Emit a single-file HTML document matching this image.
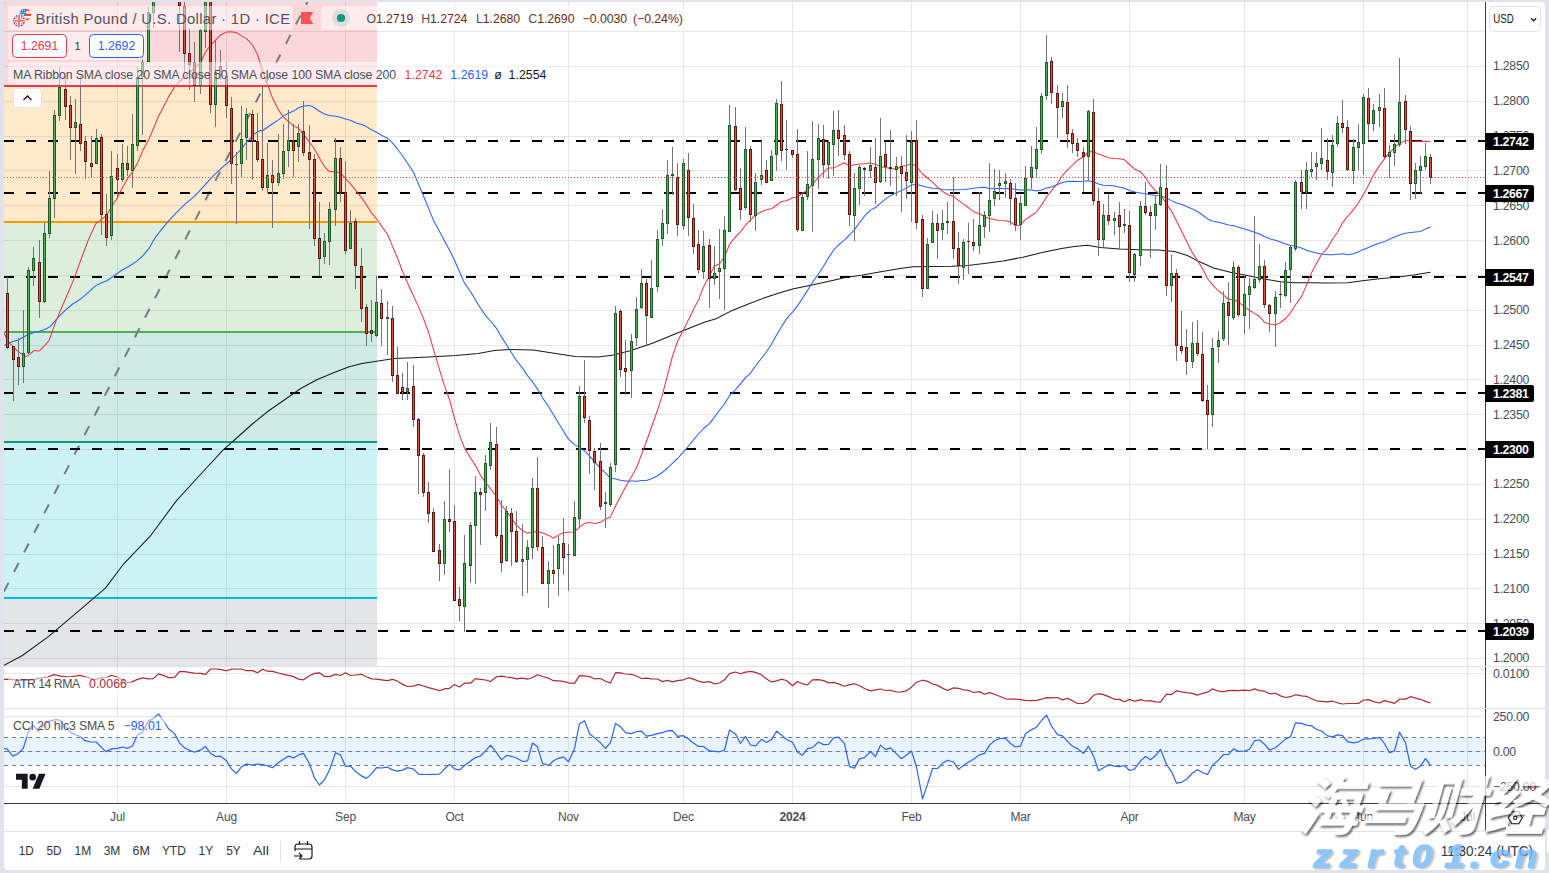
<!DOCTYPE html>
<html><head><meta charset="utf-8"><title>GBPUSD chart</title>
<style>html,body{margin:0;padding:0;background:#e0e3eb;}body{width:1549px;height:873px;overflow:hidden;}svg{display:block}</style>
</head><body>
<svg width="1549" height="873" viewBox="0 0 1549 873" font-family="Liberation Sans, Arial, sans-serif">
<defs>
<clipPath id="cm"><rect x="4" y="2" width="1481" height="664"/></clipPath>
<clipPath id="ca"><rect x="4" y="667" width="1481" height="41"/></clipPath>
<clipPath id="cc"><rect x="4" y="709" width="1481" height="94"/></clipPath>
<filter id="ws" x="-5%" y="-10%" width="110%" height="130%"><feGaussianBlur in="SourceAlpha" stdDeviation="0.8" result="b"/><feOffset in="b" dx="2" dy="2" result="o"/><feComposite in="o" in2="SourceAlpha" operator="out" result="sh"/><feFlood flood-color="#000" flood-opacity="0.6"/><feComposite in2="sh" operator="in"/></filter><filter id="ws2" x="-10%" y="-10%" width="120%" height="130%"><feDropShadow dx="1.5" dy="1.5" stdDeviation="0.7" flood-color="#555" flood-opacity="0.5"/></filter></defs>
<rect width="1549" height="873" fill="#e0e3eb"/>
<rect x="4" y="2" width="1541" height="868" rx="3.5" fill="#fff"/>
<g shape-rendering="crispEdges" fill="#e6e6e6">
<rect x="117" y="2" width="1" height="801"/>
<rect x="226" y="2" width="1" height="801"/>
<rect x="345" y="2" width="1" height="801"/>
<rect x="454" y="2" width="1" height="801"/>
<rect x="568" y="2" width="1" height="801"/>
<rect x="683" y="2" width="1" height="801"/>
<rect x="792" y="2" width="1" height="801"/>
<rect x="911" y="2" width="1" height="801"/>
<rect x="1020" y="2" width="1" height="801"/>
<rect x="1129" y="2" width="1" height="801"/>
<rect x="1244" y="2" width="1" height="801"/>
<rect x="1363" y="2" width="1" height="801"/>
<rect x="1467" y="2" width="1" height="801"/>
<rect x="4" y="31" width="1481" height="1"/>
<rect x="4" y="66" width="1481" height="1"/>
<rect x="4" y="101" width="1481" height="1"/>
<rect x="4" y="136" width="1481" height="1"/>
<rect x="4" y="170" width="1481" height="1"/>
<rect x="4" y="205" width="1481" height="1"/>
<rect x="4" y="240" width="1481" height="1"/>
<rect x="4" y="275" width="1481" height="1"/>
<rect x="4" y="310" width="1481" height="1"/>
<rect x="4" y="345" width="1481" height="1"/>
<rect x="4" y="379" width="1481" height="1"/>
<rect x="4" y="414" width="1481" height="1"/>
<rect x="4" y="449" width="1481" height="1"/>
<rect x="4" y="484" width="1481" height="1"/>
<rect x="4" y="519" width="1481" height="1"/>
<rect x="4" y="554" width="1481" height="1"/>
<rect x="4" y="588" width="1481" height="1"/>
<rect x="4" y="623" width="1481" height="1"/>
<rect x="4" y="658" width="1481" height="1"/>
<rect x="4" y="673" width="1481" height="1"/>
<rect x="4" y="716" width="1481" height="1"/>
<rect x="4" y="751" width="1481" height="1"/>
<rect x="4" y="786" width="1481" height="1"/>
</g>
<g clip-path="url(#cm)">
<rect x="4" y="2" width="373" height="84" fill="#f23645" fill-opacity="0.2"/>
<rect x="4" y="86" width="373" height="136" fill="#ff9800" fill-opacity="0.2"/>
<rect x="4" y="222" width="373" height="110" fill="#4caf50" fill-opacity="0.2"/>
<rect x="4" y="332" width="373" height="110" fill="#089981" fill-opacity="0.2"/>
<rect x="4" y="442" width="373" height="156" fill="#00bcd4" fill-opacity="0.2"/>
<rect x="4" y="598" width="373" height="68" fill="#787b86" fill-opacity="0.2"/>
<rect x="4" y="85" width="373" height="2" fill="#f23645" shape-rendering="crispEdges"/>
<rect x="4" y="221" width="373" height="2" fill="#ff9800" shape-rendering="crispEdges"/>
<rect x="4" y="331" width="373" height="2" fill="#4caf50" shape-rendering="crispEdges"/>
<rect x="4" y="441" width="373" height="2" fill="#089981" shape-rendering="crispEdges"/>
<rect x="4" y="597" width="373" height="2" fill="#00bcd4" shape-rendering="crispEdges"/>
<line x1="4" y1="591.5" x2="310" y2="-3" stroke="#787b86" stroke-width="2" stroke-dasharray="10 12"/>
<line x1="4" y1="141" x2="1485" y2="141" stroke="#000" stroke-width="2" stroke-dasharray="10 12" shape-rendering="crispEdges"/>
<line x1="4" y1="193" x2="1485" y2="193" stroke="#000" stroke-width="2" stroke-dasharray="10 12" shape-rendering="crispEdges"/>
<line x1="4" y1="277" x2="1485" y2="277" stroke="#000" stroke-width="2" stroke-dasharray="10 12" shape-rendering="crispEdges"/>
<line x1="4" y1="393" x2="1485" y2="393" stroke="#000" stroke-width="2" stroke-dasharray="10 12" shape-rendering="crispEdges"/>
<line x1="4" y1="449" x2="1485" y2="449" stroke="#000" stroke-width="2" stroke-dasharray="10 12" shape-rendering="crispEdges"/>
<line x1="4" y1="631" x2="1485" y2="631" stroke="#000" stroke-width="2" stroke-dasharray="10 12" shape-rendering="crispEdges"/>
<path d="M4.0 665.3 L22.4 655.5 L48.7 636.3 L79.1 610.7 L105.4 588.1 L123.8 563.8 L150.2 536.2 L176.5 500.6 L205.5 469.0 L223.2 449.8 L236.1 438.5 L252.3 424.0 L268.4 411.0 L284.6 399.7 L300.7 388.5 L316.8 379.7 L333.0 373.0 L349.1 366.8 L362.0 363.6 L378.2 361.0 L394.3 358.4 L413.7 357.8 L433.0 356.8 L455.6 355.5 L478.2 353.6 L494.4 350.4 L510.5 349.4 L533.1 350.0 L555.7 353.6 L575.1 356.5 L597.7 357.1 L612.2 355.2 L630.0 350.7 L652.5 343.3 L671.9 335.2 L688.0 328.7 L704.2 322.3 L716.1 318.8 L732.3 310.4 L748.4 303.9 L764.6 297.8 L780.7 292.6 L793.6 288.8 L809.7 285.5 L829.1 281.3 L845.3 277.5 L861.4 275.2 L880.8 271.7 L900.1 268.4 L913.0 266.8 L932.4 266.5 L951.8 266.2 L967.9 265.5 L984.1 263.6 L1003.4 261.0 L1022.8 257.2 L1042.2 252.6 L1061.5 248.4 L1074.4 246.5 L1087.3 245.2 L1100.3 247.4 L1119.6 249.1 L1139.0 249.7 L1158.4 250.0 L1174.5 251.6 L1187.4 255.5 L1196.8 260.4 L1213.6 268.0 L1230.4 272.2 L1247.1 275.5 L1263.9 278.9 L1280.7 281.7 L1294.1 282.7 L1310.9 282.7 L1327.7 283.1 L1347.8 282.7 L1364.6 280.6 L1381.4 278.5 L1398.2 276.9 L1415.0 274.7 L1430.6 272.2" fill="none" stroke="#1a1a1a" stroke-width="1.05" stroke-linejoin="round"/>
<path d="M4.5 345.3 L12.6 341.6 L18.6 340.0 L26.7 335.3 L33.7 332.4 L39.5 331.3 L45.3 329.3 L50.0 326.6 L54.7 321.4 L59.3 316.2 L65.1 310.3 L72.1 304.5 L80.2 299.3 L88.4 292.3 L95.3 285.9 L101.2 283.0 L107.0 280.7 L112.8 276.6 L120.9 270.8 L129.1 266.2 L137.2 260.9 L143.0 255.7 L148.8 248.7 L154.7 238.4 L159.6 231.8 L167.6 222.2 L175.6 213.4 L185.3 203.8 L194.9 195.8 L204.5 185.3 L214.1 174.9 L222.1 167.7 L230.2 160.5 L238.2 152.5 L246.2 142.9 L254.2 134.0 L260.0 130.5 L262.5 130.7 L267.5 127.3 L272.5 123.8 L278.5 119.9 L283.5 115.9 L288.5 113.3 L293.5 111.1 L298.5 107.8 L303.5 106.1 L309.5 105.4 L314.5 107.8 L319.5 111.3 L324.5 114.0 L329.5 115.6 L335.5 116.3 L340.5 117.3 L345.5 119.1 L350.5 120.2 L355.5 122.7 L361.5 124.6 L366.5 126.6 L371.5 129.7 L376.5 132.2 L381.5 135.3 L387.5 138.2 L392.5 142.9 L397.5 149.2 L402.5 155.8 L407.5 163.3 L413.5 172.3 L418.5 184.1 L423.5 196.0 L428.5 208.1 L433.5 220.4 L439.5 231.5 L444.5 240.9 L449.5 250.0 L454.5 260.3 L459.5 271.8 L464.5 283.1 L470.5 291.5 L475.5 299.9 L480.5 308.3 L485.5 315.4 L490.5 321.0 L496.5 328.4 L501.5 336.9 L506.5 344.8 L511.5 352.7 L516.5 360.7 L522.5 368.1 L527.5 375.6 L532.5 381.7 L537.5 389.1 L542.5 397.8 L548.5 406.4 L553.5 414.8 L558.5 423.1 L563.5 431.2 L568.5 439.1 L574.5 444.6 L579.5 447.4 L584.5 450.9 L589.5 455.8 L594.5 461.9 L600.5 468.1 L605.5 473.2 L610.5 478.1 L615.5 479.0 L620.5 480.2 L625.5 481.0 L631.5 481.1 L636.5 481.2 L641.5 480.5 L646.5 480.5 L651.5 478.8 L657.5 475.7 L662.5 472.3 L667.5 468.0 L672.5 463.1 L677.5 458.5 L683.5 451.9 L688.5 446.0 L693.5 439.9 L698.5 434.0 L703.5 428.5 L709.5 423.6 L714.5 417.1 L719.5 410.3 L724.5 403.7 L729.5 395.7 L735.5 389.6 L740.5 383.9 L745.5 377.7 L750.5 373.1 L755.5 366.0 L761.5 358.3 L766.5 351.7 L771.5 344.2 L776.5 335.0 L781.5 326.8 L786.5 318.9 L792.5 312.2 L797.5 305.9 L802.5 298.2 L807.5 290.4 L812.5 282.2 L818.5 274.0 L823.5 266.2 L828.5 257.9 L833.5 250.2 L838.5 245.0 L844.5 239.8 L849.5 235.0 L854.5 229.6 L859.5 222.8 L864.5 216.1 L870.5 210.1 L875.5 207.5 L880.5 203.2 L885.5 199.1 L890.5 195.6 L896.5 192.8 L901.5 190.6 L906.5 187.9 L911.5 185.0 L916.5 184.6 L922.5 185.9 L927.5 187.3 L932.5 188.3 L937.5 188.4 L942.5 189.6 L947.5 189.7 L953.5 189.8 L958.5 189.7 L963.5 189.6 L968.5 188.9 L973.5 188.3 L979.5 187.5 L984.5 187.2 L989.5 188.7 L994.5 188.7 L999.5 188.2 L1005.5 188.8 L1010.5 188.5 L1015.5 189.4 L1020.5 189.9 L1025.5 189.8 L1031.5 190.0 L1036.5 191.0 L1041.5 189.9 L1046.5 188.1 L1051.5 186.9 L1057.5 184.4 L1062.5 182.5 L1067.5 181.5 L1072.5 181.2 L1077.5 181.4 L1083.5 181.3 L1088.5 180.7 L1093.5 182.1 L1098.5 184.1 L1103.5 185.3 L1108.5 185.4 L1114.5 186.0 L1119.5 187.2 L1124.5 188.3 L1129.5 190.5 L1134.5 191.9 L1140.5 192.9 L1145.5 193.8 L1150.5 194.8 L1155.5 195.5 L1160.5 195.8 L1166.5 197.9 L1171.5 200.6 L1176.5 203.0 L1181.5 204.3 L1186.5 206.6 L1192.5 209.0 L1197.5 211.5 L1202.5 215.0 L1207.5 218.9 L1212.5 220.9 L1218.5 222.3 L1223.5 223.6 L1228.5 225.1 L1233.5 225.5 L1238.5 227.3 L1244.5 228.9 L1249.5 230.6 L1254.5 232.3 L1259.5 234.0 L1264.5 236.5 L1269.5 238.8 L1275.5 240.2 L1280.5 242.1 L1285.5 243.9 L1290.5 245.5 L1295.5 246.2 L1301.5 248.1 L1306.5 250.2 L1311.5 251.8 L1316.5 252.9 L1321.5 254.0 L1327.5 254.8 L1332.5 254.8 L1337.5 254.2 L1342.5 253.7 L1347.5 254.8 L1353.5 253.8 L1358.5 251.8 L1363.5 249.4 L1368.5 247.5 L1373.5 245.3 L1379.5 243.0 L1384.5 241.6 L1389.5 239.2 L1394.5 237.0 L1399.5 234.9 L1405.5 233.2 L1410.5 232.6 L1415.5 231.9 L1420.5 231.5 L1425.5 228.9 L1430.5 227.0" fill="none" stroke="#2962ff" stroke-width="1.05" stroke-linejoin="round"/>
<path d="M3.8 332.7 L8.8 342.3 L17.6 351.1 L25.2 356.7 L29.0 354.9 L34.0 350.6 L39.0 351.1 L44.1 346.1 L49.1 340.6 L54.2 325.9 L59.2 313.4 L66.8 295.7 L74.3 278.1 L80.6 260.5 L88.2 240.3 L95.7 223.9 L100.8 219.9 L106.5 215.4 L111.5 206.8 L117.5 197.8 L122.5 187.6 L127.5 178.4 L132.5 172.1 L137.5 163.1 L142.5 151.1 L148.5 140.0 L153.5 128.6 L158.5 116.2 L163.5 106.7 L168.5 96.9 L174.5 87.3 L179.5 81.5 L184.5 77.0 L189.5 72.1 L194.5 68.1 L200.5 62.7 L205.5 52.0 L210.5 45.4 L215.5 40.2 L220.5 35.0 L226.5 32.1 L231.5 31.8 L236.5 32.8 L241.5 35.9 L246.5 38.6 L252.5 45.0 L257.5 54.5 L262.5 70.5 L267.5 84.4 L272.5 98.1 L278.5 109.9 L283.5 117.2 L288.5 121.6 L293.5 125.9 L298.5 128.3 L303.5 134.4 L309.5 142.3 L314.5 149.0 L319.5 158.3 L324.5 166.6 L329.5 171.8 L335.5 171.5 L340.5 172.9 L345.5 178.5 L350.5 183.9 L355.5 190.1 L361.5 197.6 L366.5 204.9 L371.5 212.8 L376.5 218.8 L381.5 226.1 L387.5 234.3 L392.5 246.1 L397.5 258.3 L402.5 271.2 L407.5 283.0 L413.5 296.0 L418.5 306.9 L423.5 318.6 L428.5 332.2 L433.5 349.3 L439.5 369.6 L444.5 385.9 L449.5 399.5 L454.5 418.4 L459.5 435.4 L464.5 448.1 L470.5 457.7 L475.5 465.6 L480.5 475.2 L485.5 482.5 L490.5 488.7 L496.5 496.7 L501.5 505.2 L506.5 511.1 L511.5 518.3 L516.5 525.4 L522.5 530.6 L527.5 533.3 L532.5 532.1 L537.5 531.8 L542.5 532.8 L548.5 535.4 L553.5 538.0 L558.5 535.1 L563.5 532.7 L568.5 532.3 L574.5 531.9 L579.5 527.1 L584.5 523.3 L589.5 522.6 L594.5 523.6 L600.5 522.2 L605.5 519.1 L610.5 516.9 L615.5 506.0 L620.5 496.4 L625.5 487.0 L631.5 476.7 L636.5 467.8 L641.5 454.6 L646.5 441.2 L651.5 427.0 L657.5 410.3 L662.5 394.3 L667.5 375.1 L672.5 356.1 L677.5 341.5 L683.5 329.8 L688.5 319.8 L693.5 309.6 L698.5 299.9 L703.5 286.9 L709.5 275.7 L714.5 266.0 L719.5 263.7 L724.5 256.8 L729.5 244.5 L735.5 236.9 L740.5 231.9 L745.5 225.2 L750.5 220.2 L755.5 214.9 L761.5 211.7 L766.5 209.7 L771.5 208.7 L776.5 205.2 L781.5 201.5 L786.5 200.8 L792.5 197.7 L797.5 196.9 L802.5 193.3 L807.5 190.2 L812.5 184.2 L818.5 177.5 L823.5 172.3 L828.5 167.9 L833.5 168.1 L838.5 165.6 L844.5 162.8 L849.5 166.1 L854.5 164.8 L859.5 164.0 L864.5 163.7 L870.5 162.9 L875.5 164.2 L880.5 166.8 L885.5 167.6 L890.5 168.6 L896.5 169.2 L901.5 166.3 L906.5 165.5 L911.5 163.4 L916.5 166.5 L922.5 174.0 L927.5 178.0 L932.5 182.1 L937.5 187.1 L942.5 191.3 L947.5 194.7 L953.5 196.4 L958.5 200.3 L963.5 204.1 L968.5 207.7 L973.5 211.7 L979.5 213.8 L984.5 216.8 L989.5 218.4 L994.5 219.6 L999.5 220.4 L1005.5 220.8 L1010.5 221.7 L1015.5 225.9 L1020.5 224.9 L1025.5 219.4 L1031.5 215.5 L1036.5 211.8 L1041.5 205.1 L1046.5 197.0 L1051.5 190.6 L1057.5 183.5 L1062.5 175.3 L1067.5 169.9 L1072.5 165.0 L1077.5 160.2 L1083.5 156.8 L1088.5 151.6 L1093.5 151.7 L1098.5 154.1 L1103.5 155.7 L1108.5 157.7 L1114.5 158.6 L1119.5 158.7 L1124.5 159.8 L1129.5 164.5 L1134.5 168.9 L1140.5 171.7 L1145.5 177.5 L1150.5 185.2 L1155.5 190.8 L1160.5 194.8 L1166.5 204.0 L1171.5 210.9 L1176.5 221.1 L1181.5 231.1 L1186.5 241.3 L1192.5 252.9 L1197.5 260.5 L1202.5 268.6 L1207.5 278.5 L1212.5 284.9 L1218.5 291.0 L1223.5 294.9 L1228.5 299.5 L1233.5 299.2 L1238.5 302.2 L1244.5 306.6 L1249.5 310.3 L1254.5 313.4 L1259.5 316.5 L1264.5 322.4 L1269.5 323.9 L1275.5 325.1 L1280.5 322.5 L1285.5 318.5 L1290.5 312.8 L1295.5 304.7 L1301.5 296.6 L1306.5 285.1 L1311.5 272.8 L1316.5 263.6 L1321.5 254.5 L1327.5 247.9 L1332.5 239.3 L1337.5 232.2 L1342.5 222.8 L1347.5 216.6 L1353.5 209.6 L1358.5 202.8 L1363.5 194.3 L1368.5 185.2 L1373.5 175.1 L1379.5 165.6 L1384.5 158.7 L1389.5 152.7 L1394.5 147.6 L1399.5 143.6 L1405.5 140.5 L1410.5 141.1 L1415.5 141.2 L1420.5 141.4 L1425.5 141.3 L1430.5 141.6" fill="none" stroke="#f23645" stroke-width="1.05" stroke-linejoin="round"/>
<g shape-rendering="crispEdges">
<rect x="7" y="277" width="1" height="72" fill="#737375"/>
<rect x="6" y="293" width="3" height="55" fill="#5e160f"/>
<rect x="7" y="294" width="1" height="53" fill="#d9523f"/>
<rect x="13" y="346" width="1" height="55" fill="#737375"/>
<rect x="12" y="346" width="3" height="14" fill="#5e160f"/>
<rect x="13" y="347" width="1" height="12" fill="#d9523f"/>
<rect x="18" y="338" width="1" height="47" fill="#737375"/>
<rect x="17" y="357" width="3" height="10" fill="#5e160f"/>
<rect x="18" y="358" width="1" height="8" fill="#d9523f"/>
<rect x="23" y="310" width="1" height="73" fill="#737375"/>
<rect x="22" y="353" width="3" height="14" fill="#1e5a2b"/>
<rect x="23" y="354" width="1" height="12" fill="#4caf50"/>
<rect x="28" y="267" width="1" height="87" fill="#737375"/>
<rect x="27" y="270" width="3" height="83" fill="#1e5a2b"/>
<rect x="28" y="271" width="1" height="81" fill="#4caf50"/>
<rect x="33" y="247" width="1" height="39" fill="#737375"/>
<rect x="32" y="258" width="3" height="13" fill="#1e5a2b"/>
<rect x="33" y="259" width="1" height="11" fill="#4caf50"/>
<rect x="39" y="240" width="1" height="78" fill="#737375"/>
<rect x="38" y="262" width="3" height="40" fill="#5e160f"/>
<rect x="39" y="263" width="1" height="38" fill="#d9523f"/>
<rect x="44" y="223" width="1" height="80" fill="#737375"/>
<rect x="43" y="233" width="3" height="69" fill="#1e5a2b"/>
<rect x="44" y="234" width="1" height="67" fill="#4caf50"/>
<rect x="49" y="171" width="1" height="67" fill="#737375"/>
<rect x="48" y="198" width="3" height="36" fill="#1e5a2b"/>
<rect x="49" y="199" width="1" height="34" fill="#4caf50"/>
<rect x="54" y="110" width="1" height="108" fill="#737375"/>
<rect x="53" y="115" width="3" height="84" fill="#1e5a2b"/>
<rect x="54" y="116" width="1" height="82" fill="#4caf50"/>
<rect x="59" y="67" width="1" height="54" fill="#737375"/>
<rect x="58" y="87" width="3" height="29" fill="#1e5a2b"/>
<rect x="59" y="88" width="1" height="27" fill="#4caf50"/>
<rect x="65" y="76" width="1" height="44" fill="#737375"/>
<rect x="64" y="89" width="3" height="18" fill="#5e160f"/>
<rect x="65" y="90" width="1" height="16" fill="#d9523f"/>
<rect x="70" y="96" width="1" height="64" fill="#737375"/>
<rect x="69" y="105" width="3" height="23" fill="#5e160f"/>
<rect x="70" y="106" width="1" height="21" fill="#d9523f"/>
<rect x="75" y="99" width="1" height="75" fill="#737375"/>
<rect x="74" y="122" width="3" height="6" fill="#1e5a2b"/>
<rect x="75" y="123" width="1" height="4" fill="#4caf50"/>
<rect x="80" y="76" width="1" height="75" fill="#737375"/>
<rect x="79" y="124" width="3" height="20" fill="#5e160f"/>
<rect x="80" y="125" width="1" height="18" fill="#d9523f"/>
<rect x="85" y="136" width="1" height="43" fill="#737375"/>
<rect x="84" y="141" width="3" height="21" fill="#5e160f"/>
<rect x="85" y="142" width="1" height="19" fill="#d9523f"/>
<rect x="91" y="136" width="1" height="42" fill="#737375"/>
<rect x="90" y="163" width="3" height="4" fill="#5e160f"/>
<rect x="91" y="164" width="1" height="2" fill="#d9523f"/>
<rect x="96" y="129" width="1" height="35" fill="#737375"/>
<rect x="95" y="138" width="3" height="26" fill="#1e5a2b"/>
<rect x="96" y="139" width="1" height="24" fill="#4caf50"/>
<rect x="101" y="134" width="1" height="101" fill="#737375"/>
<rect x="100" y="137" width="3" height="78" fill="#5e160f"/>
<rect x="101" y="138" width="1" height="76" fill="#d9523f"/>
<rect x="106" y="194" width="1" height="52" fill="#737375"/>
<rect x="105" y="214" width="3" height="24" fill="#5e160f"/>
<rect x="106" y="215" width="1" height="22" fill="#d9523f"/>
<rect x="111" y="151" width="1" height="89" fill="#737375"/>
<rect x="110" y="176" width="3" height="60" fill="#1e5a2b"/>
<rect x="111" y="177" width="1" height="58" fill="#4caf50"/>
<rect x="117" y="154" width="1" height="45" fill="#737375"/>
<rect x="116" y="168" width="3" height="12" fill="#5e160f"/>
<rect x="117" y="169" width="1" height="10" fill="#d9523f"/>
<rect x="122" y="144" width="1" height="38" fill="#737375"/>
<rect x="121" y="163" width="3" height="17" fill="#1e5a2b"/>
<rect x="122" y="164" width="1" height="15" fill="#4caf50"/>
<rect x="127" y="146" width="1" height="30" fill="#737375"/>
<rect x="126" y="163" width="3" height="7" fill="#5e160f"/>
<rect x="127" y="164" width="1" height="5" fill="#d9523f"/>
<rect x="132" y="114" width="1" height="74" fill="#737375"/>
<rect x="131" y="144" width="3" height="27" fill="#1e5a2b"/>
<rect x="132" y="145" width="1" height="25" fill="#4caf50"/>
<rect x="137" y="67" width="1" height="84" fill="#737375"/>
<rect x="136" y="77" width="3" height="69" fill="#1e5a2b"/>
<rect x="137" y="78" width="1" height="67" fill="#4caf50"/>
<rect x="142" y="56" width="1" height="79" fill="#737375"/>
<rect x="141" y="62" width="3" height="15" fill="#1e5a2b"/>
<rect x="142" y="63" width="1" height="13" fill="#4caf50"/>
<rect x="148" y="7" width="1" height="55" fill="#737375"/>
<rect x="147" y="12" width="3" height="50" fill="#1e5a2b"/>
<rect x="148" y="13" width="1" height="48" fill="#4caf50"/>
<rect x="153" y="-38" width="1" height="66" fill="#737375"/>
<rect x="152" y="-30" width="3" height="43" fill="#1e5a2b"/>
<rect x="153" y="-29" width="1" height="41" fill="#4caf50"/>
<rect x="158" y="-137" width="1" height="113" fill="#737375"/>
<rect x="157" y="-132" width="3" height="102" fill="#1e5a2b"/>
<rect x="158" y="-131" width="1" height="100" fill="#4caf50"/>
<rect x="163" y="-139" width="1" height="53" fill="#737375"/>
<rect x="162" y="-132" width="3" height="30" fill="#5e160f"/>
<rect x="163" y="-131" width="1" height="28" fill="#d9523f"/>
<rect x="168" y="-115" width="1" height="42" fill="#737375"/>
<rect x="167" y="-101" width="3" height="11" fill="#5e160f"/>
<rect x="168" y="-100" width="1" height="9" fill="#d9523f"/>
<rect x="174" y="-126" width="1" height="68" fill="#737375"/>
<rect x="173" y="-91" width="3" height="27" fill="#5e160f"/>
<rect x="174" y="-90" width="1" height="25" fill="#d9523f"/>
<rect x="179" y="-70" width="1" height="122" fill="#737375"/>
<rect x="178" y="-64" width="3" height="70" fill="#5e160f"/>
<rect x="179" y="-63" width="1" height="68" fill="#d9523f"/>
<rect x="184" y="2" width="1" height="70" fill="#737375"/>
<rect x="183" y="6" width="3" height="48" fill="#5e160f"/>
<rect x="184" y="7" width="1" height="46" fill="#d9523f"/>
<rect x="189" y="28" width="1" height="62" fill="#737375"/>
<rect x="188" y="53" width="3" height="12" fill="#5e160f"/>
<rect x="189" y="54" width="1" height="10" fill="#d9523f"/>
<rect x="194" y="42" width="1" height="60" fill="#737375"/>
<rect x="193" y="62" width="3" height="24" fill="#5e160f"/>
<rect x="194" y="63" width="1" height="22" fill="#d9523f"/>
<rect x="200" y="28" width="1" height="66" fill="#737375"/>
<rect x="199" y="30" width="3" height="56" fill="#1e5a2b"/>
<rect x="200" y="31" width="1" height="54" fill="#4caf50"/>
<rect x="205" y="-10" width="1" height="58" fill="#737375"/>
<rect x="204" y="1" width="3" height="31" fill="#1e5a2b"/>
<rect x="205" y="2" width="1" height="29" fill="#4caf50"/>
<rect x="210" y="-35" width="1" height="148" fill="#737375"/>
<rect x="209" y="1" width="3" height="104" fill="#5e160f"/>
<rect x="210" y="2" width="1" height="102" fill="#d9523f"/>
<rect x="215" y="40" width="1" height="87" fill="#737375"/>
<rect x="214" y="72" width="3" height="33" fill="#1e5a2b"/>
<rect x="215" y="73" width="1" height="31" fill="#4caf50"/>
<rect x="220" y="50" width="1" height="30" fill="#737375"/>
<rect x="219" y="66" width="3" height="10" fill="#5e160f"/>
<rect x="220" y="67" width="1" height="8" fill="#d9523f"/>
<rect x="226" y="62" width="1" height="56" fill="#737375"/>
<rect x="225" y="76" width="3" height="30" fill="#5e160f"/>
<rect x="226" y="77" width="1" height="28" fill="#d9523f"/>
<rect x="231" y="97" width="1" height="87" fill="#737375"/>
<rect x="230" y="108" width="3" height="56" fill="#5e160f"/>
<rect x="231" y="109" width="1" height="54" fill="#d9523f"/>
<rect x="236" y="152" width="1" height="72" fill="#737375"/>
<rect x="235" y="164" width="3" height="1" fill="#1e5a2b"/>
<rect x="241" y="106" width="1" height="72" fill="#737375"/>
<rect x="240" y="139" width="3" height="25" fill="#1e5a2b"/>
<rect x="241" y="140" width="1" height="23" fill="#4caf50"/>
<rect x="246" y="108" width="1" height="52" fill="#737375"/>
<rect x="245" y="114" width="3" height="24" fill="#1e5a2b"/>
<rect x="246" y="115" width="1" height="22" fill="#4caf50"/>
<rect x="252" y="110" width="1" height="70" fill="#737375"/>
<rect x="251" y="114" width="3" height="28" fill="#5e160f"/>
<rect x="252" y="115" width="1" height="26" fill="#d9523f"/>
<rect x="257" y="113" width="1" height="49" fill="#737375"/>
<rect x="256" y="141" width="3" height="19" fill="#5e160f"/>
<rect x="257" y="142" width="1" height="17" fill="#d9523f"/>
<rect x="262" y="86" width="1" height="105" fill="#737375"/>
<rect x="261" y="159" width="3" height="29" fill="#5e160f"/>
<rect x="262" y="160" width="1" height="27" fill="#d9523f"/>
<rect x="267" y="143" width="1" height="50" fill="#737375"/>
<rect x="266" y="175" width="3" height="13" fill="#1e5a2b"/>
<rect x="267" y="176" width="1" height="11" fill="#4caf50"/>
<rect x="272" y="160" width="1" height="68" fill="#737375"/>
<rect x="271" y="175" width="3" height="8" fill="#5e160f"/>
<rect x="272" y="176" width="1" height="6" fill="#d9523f"/>
<rect x="278" y="134" width="1" height="52" fill="#737375"/>
<rect x="277" y="173" width="3" height="10" fill="#1e5a2b"/>
<rect x="278" y="174" width="1" height="8" fill="#4caf50"/>
<rect x="283" y="124" width="1" height="55" fill="#737375"/>
<rect x="282" y="151" width="3" height="23" fill="#1e5a2b"/>
<rect x="283" y="152" width="1" height="21" fill="#4caf50"/>
<rect x="288" y="110" width="1" height="57" fill="#737375"/>
<rect x="287" y="140" width="3" height="11" fill="#1e5a2b"/>
<rect x="288" y="141" width="1" height="9" fill="#4caf50"/>
<rect x="293" y="124" width="1" height="53" fill="#737375"/>
<rect x="292" y="141" width="3" height="10" fill="#5e160f"/>
<rect x="293" y="142" width="1" height="8" fill="#d9523f"/>
<rect x="298" y="124" width="1" height="38" fill="#737375"/>
<rect x="297" y="133" width="3" height="14" fill="#1e5a2b"/>
<rect x="298" y="134" width="1" height="12" fill="#4caf50"/>
<rect x="303" y="101" width="1" height="55" fill="#737375"/>
<rect x="302" y="131" width="3" height="22" fill="#5e160f"/>
<rect x="303" y="132" width="1" height="20" fill="#d9523f"/>
<rect x="309" y="125" width="1" height="104" fill="#737375"/>
<rect x="308" y="152" width="3" height="8" fill="#5e160f"/>
<rect x="309" y="153" width="1" height="6" fill="#d9523f"/>
<rect x="314" y="154" width="1" height="92" fill="#737375"/>
<rect x="313" y="159" width="3" height="80" fill="#5e160f"/>
<rect x="314" y="160" width="1" height="78" fill="#d9523f"/>
<rect x="319" y="202" width="1" height="74" fill="#737375"/>
<rect x="318" y="238" width="3" height="21" fill="#5e160f"/>
<rect x="319" y="239" width="1" height="19" fill="#d9523f"/>
<rect x="324" y="233" width="1" height="31" fill="#737375"/>
<rect x="323" y="241" width="3" height="16" fill="#1e5a2b"/>
<rect x="324" y="242" width="1" height="14" fill="#4caf50"/>
<rect x="329" y="202" width="1" height="63" fill="#737375"/>
<rect x="328" y="209" width="3" height="33" fill="#1e5a2b"/>
<rect x="329" y="210" width="1" height="31" fill="#4caf50"/>
<rect x="335" y="138" width="1" height="88" fill="#737375"/>
<rect x="334" y="158" width="3" height="52" fill="#1e5a2b"/>
<rect x="335" y="159" width="1" height="50" fill="#4caf50"/>
<rect x="340" y="147" width="1" height="55" fill="#737375"/>
<rect x="339" y="158" width="3" height="35" fill="#5e160f"/>
<rect x="340" y="159" width="1" height="33" fill="#d9523f"/>
<rect x="345" y="161" width="1" height="93" fill="#737375"/>
<rect x="344" y="192" width="3" height="59" fill="#5e160f"/>
<rect x="345" y="193" width="1" height="57" fill="#d9523f"/>
<rect x="350" y="210" width="1" height="39" fill="#737375"/>
<rect x="349" y="223" width="3" height="26" fill="#1e5a2b"/>
<rect x="350" y="224" width="1" height="24" fill="#4caf50"/>
<rect x="355" y="218" width="1" height="71" fill="#737375"/>
<rect x="354" y="221" width="3" height="45" fill="#5e160f"/>
<rect x="355" y="222" width="1" height="43" fill="#d9523f"/>
<rect x="361" y="248" width="1" height="74" fill="#737375"/>
<rect x="360" y="266" width="3" height="43" fill="#5e160f"/>
<rect x="361" y="267" width="1" height="41" fill="#d9523f"/>
<rect x="366" y="304" width="1" height="42" fill="#737375"/>
<rect x="365" y="307" width="3" height="27" fill="#5e160f"/>
<rect x="366" y="308" width="1" height="25" fill="#d9523f"/>
<rect x="371" y="300" width="1" height="42" fill="#737375"/>
<rect x="370" y="330" width="3" height="4" fill="#5e160f"/>
<rect x="371" y="331" width="1" height="2" fill="#d9523f"/>
<rect x="376" y="276" width="1" height="61" fill="#737375"/>
<rect x="375" y="302" width="3" height="34" fill="#1e5a2b"/>
<rect x="376" y="303" width="1" height="32" fill="#4caf50"/>
<rect x="381" y="289" width="1" height="57" fill="#737375"/>
<rect x="380" y="303" width="3" height="16" fill="#5e160f"/>
<rect x="381" y="304" width="1" height="14" fill="#d9523f"/>
<rect x="387" y="301" width="1" height="54" fill="#737375"/>
<rect x="386" y="317" width="3" height="2" fill="#1e5a2b"/>
<rect x="392" y="306" width="1" height="76" fill="#737375"/>
<rect x="391" y="318" width="3" height="58" fill="#5e160f"/>
<rect x="392" y="319" width="1" height="56" fill="#d9523f"/>
<rect x="397" y="347" width="1" height="47" fill="#737375"/>
<rect x="396" y="375" width="3" height="19" fill="#5e160f"/>
<rect x="397" y="376" width="1" height="17" fill="#d9523f"/>
<rect x="402" y="373" width="1" height="27" fill="#737375"/>
<rect x="401" y="387" width="3" height="5" fill="#5e160f"/>
<rect x="402" y="388" width="1" height="3" fill="#d9523f"/>
<rect x="407" y="362" width="1" height="38" fill="#737375"/>
<rect x="406" y="388" width="3" height="4" fill="#1e5a2b"/>
<rect x="407" y="389" width="1" height="2" fill="#4caf50"/>
<rect x="413" y="365" width="1" height="62" fill="#737375"/>
<rect x="412" y="386" width="3" height="34" fill="#5e160f"/>
<rect x="413" y="387" width="1" height="32" fill="#d9523f"/>
<rect x="418" y="418" width="1" height="76" fill="#737375"/>
<rect x="417" y="419" width="3" height="37" fill="#5e160f"/>
<rect x="418" y="420" width="1" height="35" fill="#d9523f"/>
<rect x="423" y="453" width="1" height="44" fill="#737375"/>
<rect x="422" y="455" width="3" height="38" fill="#5e160f"/>
<rect x="423" y="456" width="1" height="36" fill="#d9523f"/>
<rect x="428" y="482" width="1" height="41" fill="#737375"/>
<rect x="427" y="492" width="3" height="22" fill="#5e160f"/>
<rect x="428" y="493" width="1" height="20" fill="#d9523f"/>
<rect x="433" y="508" width="1" height="44" fill="#737375"/>
<rect x="432" y="512" width="3" height="40" fill="#5e160f"/>
<rect x="433" y="513" width="1" height="38" fill="#d9523f"/>
<rect x="439" y="544" width="1" height="37" fill="#737375"/>
<rect x="438" y="550" width="3" height="14" fill="#5e160f"/>
<rect x="439" y="551" width="1" height="12" fill="#d9523f"/>
<rect x="444" y="501" width="1" height="74" fill="#737375"/>
<rect x="443" y="519" width="3" height="45" fill="#1e5a2b"/>
<rect x="444" y="520" width="1" height="43" fill="#4caf50"/>
<rect x="449" y="469" width="1" height="63" fill="#737375"/>
<rect x="448" y="519" width="3" height="3" fill="#5e160f"/>
<rect x="449" y="520" width="1" height="1" fill="#d9523f"/>
<rect x="454" y="505" width="1" height="96" fill="#737375"/>
<rect x="453" y="521" width="3" height="80" fill="#5e160f"/>
<rect x="454" y="522" width="1" height="78" fill="#d9523f"/>
<rect x="459" y="587" width="1" height="34" fill="#737375"/>
<rect x="458" y="599" width="3" height="7" fill="#5e160f"/>
<rect x="459" y="600" width="1" height="5" fill="#d9523f"/>
<rect x="464" y="535" width="1" height="97" fill="#737375"/>
<rect x="463" y="563" width="3" height="44" fill="#1e5a2b"/>
<rect x="464" y="564" width="1" height="42" fill="#4caf50"/>
<rect x="470" y="522" width="1" height="61" fill="#737375"/>
<rect x="469" y="525" width="3" height="41" fill="#1e5a2b"/>
<rect x="470" y="526" width="1" height="39" fill="#4caf50"/>
<rect x="475" y="476" width="1" height="108" fill="#737375"/>
<rect x="474" y="492" width="3" height="34" fill="#1e5a2b"/>
<rect x="475" y="493" width="1" height="32" fill="#4caf50"/>
<rect x="480" y="488" width="1" height="57" fill="#737375"/>
<rect x="479" y="492" width="3" height="3" fill="#5e160f"/>
<rect x="480" y="493" width="1" height="1" fill="#d9523f"/>
<rect x="485" y="455" width="1" height="56" fill="#737375"/>
<rect x="484" y="463" width="3" height="30" fill="#1e5a2b"/>
<rect x="485" y="464" width="1" height="28" fill="#4caf50"/>
<rect x="490" y="423" width="1" height="47" fill="#737375"/>
<rect x="489" y="442" width="3" height="24" fill="#1e5a2b"/>
<rect x="490" y="443" width="1" height="22" fill="#4caf50"/>
<rect x="496" y="427" width="1" height="111" fill="#737375"/>
<rect x="495" y="444" width="3" height="92" fill="#5e160f"/>
<rect x="496" y="445" width="1" height="90" fill="#d9523f"/>
<rect x="501" y="500" width="1" height="72" fill="#737375"/>
<rect x="500" y="535" width="3" height="28" fill="#5e160f"/>
<rect x="501" y="536" width="1" height="26" fill="#d9523f"/>
<rect x="506" y="506" width="1" height="56" fill="#737375"/>
<rect x="505" y="511" width="3" height="50" fill="#1e5a2b"/>
<rect x="506" y="512" width="1" height="48" fill="#4caf50"/>
<rect x="511" y="508" width="1" height="58" fill="#737375"/>
<rect x="510" y="513" width="3" height="19" fill="#5e160f"/>
<rect x="511" y="514" width="1" height="17" fill="#d9523f"/>
<rect x="516" y="511" width="1" height="52" fill="#737375"/>
<rect x="515" y="531" width="3" height="31" fill="#5e160f"/>
<rect x="516" y="532" width="1" height="29" fill="#d9523f"/>
<rect x="522" y="524" width="1" height="72" fill="#737375"/>
<rect x="521" y="559" width="3" height="3" fill="#1e5a2b"/>
<rect x="522" y="560" width="1" height="1" fill="#4caf50"/>
<rect x="527" y="540" width="1" height="53" fill="#737375"/>
<rect x="526" y="547" width="3" height="13" fill="#1e5a2b"/>
<rect x="527" y="548" width="1" height="11" fill="#4caf50"/>
<rect x="532" y="478" width="1" height="81" fill="#737375"/>
<rect x="531" y="488" width="3" height="60" fill="#1e5a2b"/>
<rect x="532" y="489" width="1" height="58" fill="#4caf50"/>
<rect x="537" y="457" width="1" height="94" fill="#737375"/>
<rect x="536" y="488" width="3" height="59" fill="#5e160f"/>
<rect x="537" y="489" width="1" height="57" fill="#d9523f"/>
<rect x="542" y="536" width="1" height="48" fill="#737375"/>
<rect x="541" y="547" width="3" height="37" fill="#5e160f"/>
<rect x="542" y="548" width="1" height="35" fill="#d9523f"/>
<rect x="548" y="561" width="1" height="47" fill="#737375"/>
<rect x="547" y="570" width="3" height="14" fill="#1e5a2b"/>
<rect x="548" y="571" width="1" height="12" fill="#4caf50"/>
<rect x="553" y="545" width="1" height="39" fill="#737375"/>
<rect x="552" y="570" width="3" height="4" fill="#5e160f"/>
<rect x="553" y="571" width="1" height="2" fill="#d9523f"/>
<rect x="558" y="536" width="1" height="60" fill="#737375"/>
<rect x="557" y="544" width="3" height="25" fill="#1e5a2b"/>
<rect x="558" y="545" width="1" height="23" fill="#4caf50"/>
<rect x="563" y="518" width="1" height="57" fill="#737375"/>
<rect x="562" y="543" width="3" height="15" fill="#5e160f"/>
<rect x="563" y="544" width="1" height="13" fill="#d9523f"/>
<rect x="568" y="544" width="1" height="47" fill="#737375"/>
<rect x="567" y="554" width="3" height="1" fill="#1e5a2b"/>
<rect x="574" y="501" width="1" height="55" fill="#737375"/>
<rect x="573" y="517" width="3" height="39" fill="#1e5a2b"/>
<rect x="574" y="518" width="1" height="37" fill="#4caf50"/>
<rect x="579" y="386" width="1" height="141" fill="#737375"/>
<rect x="578" y="396" width="3" height="123" fill="#1e5a2b"/>
<rect x="579" y="397" width="1" height="121" fill="#4caf50"/>
<rect x="584" y="360" width="1" height="63" fill="#737375"/>
<rect x="583" y="396" width="3" height="22" fill="#5e160f"/>
<rect x="584" y="397" width="1" height="20" fill="#d9523f"/>
<rect x="589" y="416" width="1" height="58" fill="#737375"/>
<rect x="588" y="420" width="3" height="31" fill="#5e160f"/>
<rect x="589" y="421" width="1" height="29" fill="#d9523f"/>
<rect x="594" y="448" width="1" height="42" fill="#737375"/>
<rect x="593" y="451" width="3" height="12" fill="#5e160f"/>
<rect x="594" y="452" width="1" height="10" fill="#d9523f"/>
<rect x="600" y="443" width="1" height="67" fill="#737375"/>
<rect x="599" y="461" width="3" height="46" fill="#5e160f"/>
<rect x="600" y="462" width="1" height="44" fill="#d9523f"/>
<rect x="605" y="492" width="1" height="36" fill="#737375"/>
<rect x="604" y="502" width="3" height="2" fill="#1e5a2b"/>
<rect x="610" y="463" width="1" height="44" fill="#737375"/>
<rect x="609" y="467" width="3" height="38" fill="#1e5a2b"/>
<rect x="610" y="468" width="1" height="36" fill="#4caf50"/>
<rect x="615" y="306" width="1" height="166" fill="#737375"/>
<rect x="614" y="313" width="3" height="152" fill="#1e5a2b"/>
<rect x="615" y="314" width="1" height="150" fill="#4caf50"/>
<rect x="620" y="309" width="1" height="68" fill="#737375"/>
<rect x="619" y="311" width="3" height="59" fill="#5e160f"/>
<rect x="620" y="312" width="1" height="57" fill="#d9523f"/>
<rect x="625" y="340" width="1" height="55" fill="#737375"/>
<rect x="624" y="368" width="3" height="4" fill="#5e160f"/>
<rect x="625" y="369" width="1" height="2" fill="#d9523f"/>
<rect x="631" y="334" width="1" height="64" fill="#737375"/>
<rect x="630" y="341" width="3" height="30" fill="#1e5a2b"/>
<rect x="631" y="342" width="1" height="28" fill="#4caf50"/>
<rect x="636" y="297" width="1" height="49" fill="#737375"/>
<rect x="635" y="309" width="3" height="29" fill="#1e5a2b"/>
<rect x="636" y="310" width="1" height="27" fill="#4caf50"/>
<rect x="641" y="269" width="1" height="40" fill="#737375"/>
<rect x="640" y="283" width="3" height="25" fill="#1e5a2b"/>
<rect x="641" y="284" width="1" height="23" fill="#4caf50"/>
<rect x="646" y="279" width="1" height="66" fill="#737375"/>
<rect x="645" y="283" width="3" height="33" fill="#5e160f"/>
<rect x="646" y="284" width="1" height="31" fill="#d9523f"/>
<rect x="651" y="260" width="1" height="58" fill="#737375"/>
<rect x="650" y="288" width="3" height="30" fill="#1e5a2b"/>
<rect x="651" y="289" width="1" height="28" fill="#4caf50"/>
<rect x="657" y="230" width="1" height="62" fill="#737375"/>
<rect x="656" y="239" width="3" height="48" fill="#1e5a2b"/>
<rect x="657" y="240" width="1" height="46" fill="#4caf50"/>
<rect x="662" y="209" width="1" height="37" fill="#737375"/>
<rect x="661" y="223" width="3" height="16" fill="#1e5a2b"/>
<rect x="662" y="224" width="1" height="14" fill="#4caf50"/>
<rect x="667" y="160" width="1" height="74" fill="#737375"/>
<rect x="666" y="175" width="3" height="49" fill="#1e5a2b"/>
<rect x="667" y="176" width="1" height="47" fill="#4caf50"/>
<rect x="672" y="147" width="1" height="48" fill="#737375"/>
<rect x="671" y="174" width="3" height="2" fill="#1e5a2b"/>
<rect x="677" y="163" width="1" height="73" fill="#737375"/>
<rect x="676" y="177" width="3" height="48" fill="#5e160f"/>
<rect x="677" y="178" width="1" height="46" fill="#d9523f"/>
<rect x="683" y="159" width="1" height="71" fill="#737375"/>
<rect x="682" y="163" width="3" height="63" fill="#1e5a2b"/>
<rect x="683" y="164" width="1" height="61" fill="#4caf50"/>
<rect x="688" y="153" width="1" height="83" fill="#737375"/>
<rect x="687" y="170" width="3" height="48" fill="#5e160f"/>
<rect x="688" y="171" width="1" height="46" fill="#d9523f"/>
<rect x="693" y="204" width="1" height="50" fill="#737375"/>
<rect x="692" y="218" width="3" height="29" fill="#5e160f"/>
<rect x="693" y="219" width="1" height="27" fill="#d9523f"/>
<rect x="698" y="230" width="1" height="44" fill="#737375"/>
<rect x="697" y="244" width="3" height="26" fill="#5e160f"/>
<rect x="698" y="245" width="1" height="24" fill="#d9523f"/>
<rect x="703" y="231" width="1" height="48" fill="#737375"/>
<rect x="702" y="246" width="3" height="26" fill="#1e5a2b"/>
<rect x="703" y="247" width="1" height="24" fill="#4caf50"/>
<rect x="709" y="239" width="1" height="69" fill="#737375"/>
<rect x="708" y="245" width="3" height="34" fill="#5e160f"/>
<rect x="709" y="246" width="1" height="32" fill="#d9523f"/>
<rect x="714" y="246" width="1" height="39" fill="#737375"/>
<rect x="713" y="273" width="3" height="6" fill="#1e5a2b"/>
<rect x="714" y="274" width="1" height="4" fill="#4caf50"/>
<rect x="719" y="229" width="1" height="70" fill="#737375"/>
<rect x="718" y="268" width="3" height="4" fill="#1e5a2b"/>
<rect x="719" y="269" width="1" height="2" fill="#4caf50"/>
<rect x="724" y="216" width="1" height="94" fill="#737375"/>
<rect x="723" y="230" width="3" height="39" fill="#1e5a2b"/>
<rect x="724" y="231" width="1" height="37" fill="#4caf50"/>
<rect x="729" y="105" width="1" height="127" fill="#737375"/>
<rect x="728" y="125" width="3" height="107" fill="#1e5a2b"/>
<rect x="729" y="126" width="1" height="105" fill="#4caf50"/>
<rect x="735" y="107" width="1" height="84" fill="#737375"/>
<rect x="734" y="126" width="3" height="64" fill="#5e160f"/>
<rect x="735" y="127" width="1" height="62" fill="#d9523f"/>
<rect x="740" y="168" width="1" height="52" fill="#737375"/>
<rect x="739" y="188" width="3" height="22" fill="#5e160f"/>
<rect x="740" y="189" width="1" height="20" fill="#d9523f"/>
<rect x="745" y="127" width="1" height="83" fill="#737375"/>
<rect x="744" y="149" width="3" height="59" fill="#1e5a2b"/>
<rect x="745" y="150" width="1" height="57" fill="#4caf50"/>
<rect x="750" y="146" width="1" height="76" fill="#737375"/>
<rect x="749" y="149" width="3" height="66" fill="#5e160f"/>
<rect x="750" y="150" width="1" height="64" fill="#d9523f"/>
<rect x="755" y="173" width="1" height="58" fill="#737375"/>
<rect x="754" y="182" width="3" height="34" fill="#1e5a2b"/>
<rect x="755" y="183" width="1" height="32" fill="#4caf50"/>
<rect x="761" y="141" width="1" height="44" fill="#737375"/>
<rect x="760" y="175" width="3" height="5" fill="#1e5a2b"/>
<rect x="761" y="176" width="1" height="3" fill="#4caf50"/>
<rect x="766" y="160" width="1" height="23" fill="#737375"/>
<rect x="765" y="170" width="3" height="13" fill="#5e160f"/>
<rect x="766" y="171" width="1" height="11" fill="#d9523f"/>
<rect x="771" y="150" width="1" height="31" fill="#737375"/>
<rect x="770" y="156" width="3" height="25" fill="#1e5a2b"/>
<rect x="771" y="157" width="1" height="23" fill="#4caf50"/>
<rect x="776" y="99" width="1" height="72" fill="#737375"/>
<rect x="775" y="103" width="3" height="52" fill="#1e5a2b"/>
<rect x="776" y="104" width="1" height="50" fill="#4caf50"/>
<rect x="781" y="81" width="1" height="80" fill="#737375"/>
<rect x="780" y="104" width="3" height="47" fill="#5e160f"/>
<rect x="781" y="105" width="1" height="45" fill="#d9523f"/>
<rect x="786" y="120" width="1" height="50" fill="#737375"/>
<rect x="785" y="149" width="3" height="1" fill="#5e160f"/>
<rect x="792" y="150" width="1" height="8" fill="#737375"/>
<rect x="791" y="150" width="3" height="5" fill="#5e160f"/>
<rect x="792" y="151" width="1" height="3" fill="#d9523f"/>
<rect x="797" y="129" width="1" height="103" fill="#737375"/>
<rect x="796" y="154" width="3" height="76" fill="#5e160f"/>
<rect x="797" y="155" width="1" height="74" fill="#d9523f"/>
<rect x="802" y="193" width="1" height="38" fill="#737375"/>
<rect x="801" y="197" width="3" height="34" fill="#1e5a2b"/>
<rect x="802" y="198" width="1" height="32" fill="#4caf50"/>
<rect x="807" y="151" width="1" height="49" fill="#737375"/>
<rect x="806" y="184" width="3" height="13" fill="#1e5a2b"/>
<rect x="807" y="185" width="1" height="11" fill="#4caf50"/>
<rect x="812" y="121" width="1" height="111" fill="#737375"/>
<rect x="811" y="159" width="3" height="27" fill="#1e5a2b"/>
<rect x="812" y="160" width="1" height="25" fill="#4caf50"/>
<rect x="818" y="124" width="1" height="65" fill="#737375"/>
<rect x="817" y="138" width="3" height="22" fill="#1e5a2b"/>
<rect x="818" y="139" width="1" height="20" fill="#4caf50"/>
<rect x="823" y="125" width="1" height="52" fill="#737375"/>
<rect x="822" y="139" width="3" height="26" fill="#5e160f"/>
<rect x="823" y="140" width="1" height="24" fill="#d9523f"/>
<rect x="828" y="140" width="1" height="39" fill="#737375"/>
<rect x="827" y="142" width="3" height="23" fill="#1e5a2b"/>
<rect x="828" y="143" width="1" height="21" fill="#4caf50"/>
<rect x="833" y="111" width="1" height="65" fill="#737375"/>
<rect x="832" y="130" width="3" height="15" fill="#1e5a2b"/>
<rect x="833" y="131" width="1" height="13" fill="#4caf50"/>
<rect x="838" y="110" width="1" height="46" fill="#737375"/>
<rect x="837" y="130" width="3" height="9" fill="#5e160f"/>
<rect x="838" y="131" width="1" height="7" fill="#d9523f"/>
<rect x="844" y="125" width="1" height="35" fill="#737375"/>
<rect x="843" y="135" width="3" height="20" fill="#5e160f"/>
<rect x="844" y="136" width="1" height="18" fill="#d9523f"/>
<rect x="849" y="151" width="1" height="75" fill="#737375"/>
<rect x="848" y="154" width="3" height="61" fill="#5e160f"/>
<rect x="849" y="155" width="1" height="59" fill="#d9523f"/>
<rect x="854" y="173" width="1" height="68" fill="#737375"/>
<rect x="853" y="188" width="3" height="28" fill="#1e5a2b"/>
<rect x="854" y="189" width="1" height="26" fill="#4caf50"/>
<rect x="859" y="165" width="1" height="40" fill="#737375"/>
<rect x="858" y="167" width="3" height="22" fill="#1e5a2b"/>
<rect x="859" y="168" width="1" height="20" fill="#4caf50"/>
<rect x="864" y="167" width="1" height="29" fill="#737375"/>
<rect x="863" y="168" width="3" height="2" fill="#5e160f"/>
<rect x="870" y="147" width="1" height="31" fill="#737375"/>
<rect x="869" y="165" width="3" height="6" fill="#1e5a2b"/>
<rect x="870" y="166" width="1" height="4" fill="#4caf50"/>
<rect x="875" y="138" width="1" height="66" fill="#737375"/>
<rect x="874" y="167" width="3" height="16" fill="#5e160f"/>
<rect x="875" y="168" width="1" height="14" fill="#d9523f"/>
<rect x="880" y="118" width="1" height="65" fill="#737375"/>
<rect x="879" y="156" width="3" height="26" fill="#1e5a2b"/>
<rect x="880" y="157" width="1" height="24" fill="#4caf50"/>
<rect x="885" y="142" width="1" height="40" fill="#737375"/>
<rect x="884" y="154" width="3" height="13" fill="#5e160f"/>
<rect x="885" y="155" width="1" height="11" fill="#d9523f"/>
<rect x="890" y="130" width="1" height="56" fill="#737375"/>
<rect x="889" y="167" width="3" height="2" fill="#5e160f"/>
<rect x="896" y="157" width="1" height="39" fill="#737375"/>
<rect x="895" y="166" width="3" height="4" fill="#1e5a2b"/>
<rect x="896" y="167" width="1" height="2" fill="#4caf50"/>
<rect x="901" y="156" width="1" height="56" fill="#737375"/>
<rect x="900" y="166" width="3" height="8" fill="#5e160f"/>
<rect x="901" y="167" width="1" height="6" fill="#d9523f"/>
<rect x="906" y="135" width="1" height="64" fill="#737375"/>
<rect x="905" y="172" width="3" height="9" fill="#5e160f"/>
<rect x="906" y="173" width="1" height="7" fill="#d9523f"/>
<rect x="911" y="131" width="1" height="91" fill="#737375"/>
<rect x="910" y="142" width="3" height="41" fill="#1e5a2b"/>
<rect x="911" y="143" width="1" height="39" fill="#4caf50"/>
<rect x="916" y="120" width="1" height="109" fill="#737375"/>
<rect x="915" y="140" width="3" height="83" fill="#5e160f"/>
<rect x="916" y="141" width="1" height="81" fill="#d9523f"/>
<rect x="922" y="215" width="1" height="82" fill="#737375"/>
<rect x="921" y="219" width="3" height="70" fill="#5e160f"/>
<rect x="922" y="220" width="1" height="68" fill="#d9523f"/>
<rect x="927" y="238" width="1" height="51" fill="#737375"/>
<rect x="926" y="244" width="3" height="45" fill="#1e5a2b"/>
<rect x="927" y="245" width="1" height="43" fill="#4caf50"/>
<rect x="932" y="211" width="1" height="32" fill="#737375"/>
<rect x="931" y="223" width="3" height="20" fill="#1e5a2b"/>
<rect x="932" y="224" width="1" height="18" fill="#4caf50"/>
<rect x="937" y="214" width="1" height="45" fill="#737375"/>
<rect x="936" y="223" width="3" height="8" fill="#5e160f"/>
<rect x="937" y="224" width="1" height="6" fill="#d9523f"/>
<rect x="942" y="210" width="1" height="30" fill="#737375"/>
<rect x="941" y="223" width="3" height="7" fill="#1e5a2b"/>
<rect x="942" y="224" width="1" height="5" fill="#4caf50"/>
<rect x="947" y="202" width="1" height="32" fill="#737375"/>
<rect x="946" y="221" width="3" height="2" fill="#1e5a2b"/>
<rect x="953" y="177" width="1" height="82" fill="#737375"/>
<rect x="952" y="221" width="3" height="28" fill="#5e160f"/>
<rect x="953" y="222" width="1" height="26" fill="#d9523f"/>
<rect x="958" y="232" width="1" height="52" fill="#737375"/>
<rect x="957" y="248" width="3" height="18" fill="#5e160f"/>
<rect x="958" y="249" width="1" height="16" fill="#d9523f"/>
<rect x="963" y="239" width="1" height="41" fill="#737375"/>
<rect x="962" y="242" width="3" height="26" fill="#1e5a2b"/>
<rect x="963" y="243" width="1" height="24" fill="#4caf50"/>
<rect x="968" y="223" width="1" height="51" fill="#737375"/>
<rect x="967" y="241" width="3" height="1" fill="#5e160f"/>
<rect x="973" y="219" width="1" height="32" fill="#737375"/>
<rect x="972" y="242" width="3" height="4" fill="#5e160f"/>
<rect x="973" y="243" width="1" height="2" fill="#d9523f"/>
<rect x="979" y="192" width="1" height="62" fill="#737375"/>
<rect x="978" y="225" width="3" height="21" fill="#1e5a2b"/>
<rect x="979" y="226" width="1" height="19" fill="#4caf50"/>
<rect x="984" y="211" width="1" height="27" fill="#737375"/>
<rect x="983" y="215" width="3" height="12" fill="#1e5a2b"/>
<rect x="984" y="216" width="1" height="10" fill="#4caf50"/>
<rect x="989" y="163" width="1" height="69" fill="#737375"/>
<rect x="988" y="200" width="3" height="16" fill="#1e5a2b"/>
<rect x="989" y="201" width="1" height="14" fill="#4caf50"/>
<rect x="994" y="169" width="1" height="37" fill="#737375"/>
<rect x="993" y="191" width="3" height="8" fill="#1e5a2b"/>
<rect x="994" y="192" width="1" height="6" fill="#4caf50"/>
<rect x="999" y="170" width="1" height="30" fill="#737375"/>
<rect x="998" y="183" width="3" height="3" fill="#1e5a2b"/>
<rect x="999" y="184" width="1" height="1" fill="#4caf50"/>
<rect x="1005" y="173" width="1" height="25" fill="#737375"/>
<rect x="1004" y="181" width="3" height="3" fill="#1e5a2b"/>
<rect x="1005" y="182" width="1" height="1" fill="#4caf50"/>
<rect x="1010" y="179" width="1" height="46" fill="#737375"/>
<rect x="1009" y="183" width="3" height="16" fill="#5e160f"/>
<rect x="1010" y="184" width="1" height="14" fill="#d9523f"/>
<rect x="1015" y="183" width="1" height="48" fill="#737375"/>
<rect x="1014" y="198" width="3" height="27" fill="#5e160f"/>
<rect x="1015" y="199" width="1" height="25" fill="#d9523f"/>
<rect x="1020" y="196" width="1" height="44" fill="#737375"/>
<rect x="1019" y="203" width="3" height="22" fill="#1e5a2b"/>
<rect x="1020" y="204" width="1" height="20" fill="#4caf50"/>
<rect x="1025" y="166" width="1" height="40" fill="#737375"/>
<rect x="1024" y="178" width="3" height="28" fill="#1e5a2b"/>
<rect x="1025" y="179" width="1" height="26" fill="#4caf50"/>
<rect x="1031" y="146" width="1" height="43" fill="#737375"/>
<rect x="1030" y="167" width="3" height="11" fill="#1e5a2b"/>
<rect x="1031" y="168" width="1" height="9" fill="#4caf50"/>
<rect x="1036" y="127" width="1" height="50" fill="#737375"/>
<rect x="1035" y="149" width="3" height="20" fill="#1e5a2b"/>
<rect x="1036" y="150" width="1" height="18" fill="#4caf50"/>
<rect x="1041" y="93" width="1" height="61" fill="#737375"/>
<rect x="1040" y="96" width="3" height="54" fill="#1e5a2b"/>
<rect x="1041" y="97" width="1" height="52" fill="#4caf50"/>
<rect x="1046" y="35" width="1" height="65" fill="#737375"/>
<rect x="1045" y="62" width="3" height="34" fill="#1e5a2b"/>
<rect x="1046" y="63" width="1" height="32" fill="#4caf50"/>
<rect x="1051" y="57" width="1" height="47" fill="#737375"/>
<rect x="1050" y="61" width="3" height="32" fill="#5e160f"/>
<rect x="1051" y="62" width="1" height="30" fill="#d9523f"/>
<rect x="1057" y="85" width="1" height="53" fill="#737375"/>
<rect x="1056" y="93" width="3" height="15" fill="#5e160f"/>
<rect x="1057" y="94" width="1" height="13" fill="#d9523f"/>
<rect x="1062" y="93" width="1" height="25" fill="#737375"/>
<rect x="1061" y="101" width="3" height="6" fill="#1e5a2b"/>
<rect x="1062" y="102" width="1" height="4" fill="#4caf50"/>
<rect x="1067" y="85" width="1" height="63" fill="#737375"/>
<rect x="1066" y="102" width="3" height="32" fill="#5e160f"/>
<rect x="1067" y="103" width="1" height="30" fill="#d9523f"/>
<rect x="1072" y="129" width="1" height="24" fill="#737375"/>
<rect x="1071" y="133" width="3" height="11" fill="#5e160f"/>
<rect x="1072" y="134" width="1" height="9" fill="#d9523f"/>
<rect x="1077" y="138" width="1" height="19" fill="#737375"/>
<rect x="1076" y="143" width="3" height="8" fill="#5e160f"/>
<rect x="1077" y="144" width="1" height="6" fill="#d9523f"/>
<rect x="1083" y="147" width="1" height="45" fill="#737375"/>
<rect x="1082" y="152" width="3" height="5" fill="#5e160f"/>
<rect x="1083" y="153" width="1" height="3" fill="#d9523f"/>
<rect x="1088" y="110" width="1" height="70" fill="#737375"/>
<rect x="1087" y="111" width="3" height="46" fill="#1e5a2b"/>
<rect x="1088" y="112" width="1" height="44" fill="#4caf50"/>
<rect x="1093" y="99" width="1" height="106" fill="#737375"/>
<rect x="1092" y="112" width="3" height="89" fill="#5e160f"/>
<rect x="1093" y="113" width="1" height="87" fill="#d9523f"/>
<rect x="1098" y="188" width="1" height="68" fill="#737375"/>
<rect x="1097" y="201" width="3" height="39" fill="#5e160f"/>
<rect x="1098" y="202" width="1" height="37" fill="#d9523f"/>
<rect x="1103" y="204" width="1" height="43" fill="#737375"/>
<rect x="1102" y="215" width="3" height="25" fill="#1e5a2b"/>
<rect x="1103" y="216" width="1" height="23" fill="#4caf50"/>
<rect x="1108" y="194" width="1" height="31" fill="#737375"/>
<rect x="1107" y="215" width="3" height="6" fill="#5e160f"/>
<rect x="1108" y="216" width="1" height="4" fill="#d9523f"/>
<rect x="1114" y="212" width="1" height="23" fill="#737375"/>
<rect x="1113" y="218" width="3" height="3" fill="#1e5a2b"/>
<rect x="1114" y="219" width="1" height="1" fill="#4caf50"/>
<rect x="1119" y="202" width="1" height="47" fill="#737375"/>
<rect x="1118" y="215" width="3" height="12" fill="#5e160f"/>
<rect x="1119" y="216" width="1" height="10" fill="#d9523f"/>
<rect x="1124" y="209" width="1" height="24" fill="#737375"/>
<rect x="1123" y="224" width="3" height="2" fill="#1e5a2b"/>
<rect x="1129" y="211" width="1" height="71" fill="#737375"/>
<rect x="1128" y="225" width="3" height="48" fill="#5e160f"/>
<rect x="1129" y="226" width="1" height="46" fill="#d9523f"/>
<rect x="1134" y="253" width="1" height="29" fill="#737375"/>
<rect x="1133" y="254" width="3" height="21" fill="#1e5a2b"/>
<rect x="1134" y="255" width="1" height="19" fill="#4caf50"/>
<rect x="1140" y="201" width="1" height="65" fill="#737375"/>
<rect x="1139" y="206" width="3" height="50" fill="#1e5a2b"/>
<rect x="1140" y="207" width="1" height="48" fill="#4caf50"/>
<rect x="1145" y="182" width="1" height="33" fill="#737375"/>
<rect x="1144" y="206" width="3" height="7" fill="#5e160f"/>
<rect x="1145" y="207" width="1" height="5" fill="#d9523f"/>
<rect x="1150" y="206" width="1" height="52" fill="#737375"/>
<rect x="1149" y="212" width="3" height="4" fill="#5e160f"/>
<rect x="1150" y="213" width="1" height="2" fill="#d9523f"/>
<rect x="1155" y="195" width="1" height="35" fill="#737375"/>
<rect x="1154" y="204" width="3" height="12" fill="#1e5a2b"/>
<rect x="1155" y="205" width="1" height="10" fill="#4caf50"/>
<rect x="1160" y="164" width="1" height="42" fill="#737375"/>
<rect x="1159" y="187" width="3" height="18" fill="#1e5a2b"/>
<rect x="1160" y="188" width="1" height="16" fill="#4caf50"/>
<rect x="1166" y="165" width="1" height="131" fill="#737375"/>
<rect x="1165" y="188" width="3" height="98" fill="#5e160f"/>
<rect x="1166" y="189" width="1" height="96" fill="#d9523f"/>
<rect x="1171" y="255" width="1" height="47" fill="#737375"/>
<rect x="1170" y="273" width="3" height="13" fill="#1e5a2b"/>
<rect x="1171" y="274" width="1" height="11" fill="#4caf50"/>
<rect x="1176" y="269" width="1" height="92" fill="#737375"/>
<rect x="1175" y="273" width="3" height="73" fill="#5e160f"/>
<rect x="1176" y="274" width="1" height="71" fill="#d9523f"/>
<rect x="1181" y="311" width="1" height="43" fill="#737375"/>
<rect x="1180" y="346" width="3" height="5" fill="#5e160f"/>
<rect x="1181" y="347" width="1" height="3" fill="#d9523f"/>
<rect x="1186" y="329" width="1" height="46" fill="#737375"/>
<rect x="1185" y="347" width="3" height="15" fill="#5e160f"/>
<rect x="1186" y="348" width="1" height="13" fill="#d9523f"/>
<rect x="1192" y="322" width="1" height="46" fill="#737375"/>
<rect x="1191" y="343" width="3" height="19" fill="#1e5a2b"/>
<rect x="1192" y="344" width="1" height="17" fill="#4caf50"/>
<rect x="1197" y="320" width="1" height="36" fill="#737375"/>
<rect x="1196" y="343" width="3" height="11" fill="#5e160f"/>
<rect x="1197" y="344" width="1" height="9" fill="#d9523f"/>
<rect x="1202" y="332" width="1" height="70" fill="#737375"/>
<rect x="1201" y="354" width="3" height="47" fill="#5e160f"/>
<rect x="1202" y="355" width="1" height="45" fill="#d9523f"/>
<rect x="1207" y="385" width="1" height="64" fill="#737375"/>
<rect x="1206" y="400" width="3" height="15" fill="#5e160f"/>
<rect x="1207" y="401" width="1" height="13" fill="#d9523f"/>
<rect x="1212" y="338" width="1" height="89" fill="#737375"/>
<rect x="1211" y="348" width="3" height="67" fill="#1e5a2b"/>
<rect x="1212" y="349" width="1" height="65" fill="#4caf50"/>
<rect x="1218" y="331" width="1" height="32" fill="#737375"/>
<rect x="1217" y="340" width="3" height="7" fill="#1e5a2b"/>
<rect x="1218" y="341" width="1" height="5" fill="#4caf50"/>
<rect x="1223" y="291" width="1" height="50" fill="#737375"/>
<rect x="1222" y="303" width="3" height="36" fill="#1e5a2b"/>
<rect x="1223" y="304" width="1" height="34" fill="#4caf50"/>
<rect x="1228" y="282" width="1" height="63" fill="#737375"/>
<rect x="1227" y="302" width="3" height="14" fill="#5e160f"/>
<rect x="1228" y="303" width="1" height="12" fill="#d9523f"/>
<rect x="1233" y="261" width="1" height="59" fill="#737375"/>
<rect x="1232" y="267" width="3" height="51" fill="#1e5a2b"/>
<rect x="1233" y="268" width="1" height="49" fill="#4caf50"/>
<rect x="1238" y="265" width="1" height="52" fill="#737375"/>
<rect x="1237" y="267" width="3" height="48" fill="#5e160f"/>
<rect x="1238" y="268" width="1" height="46" fill="#d9523f"/>
<rect x="1244" y="275" width="1" height="59" fill="#737375"/>
<rect x="1243" y="294" width="3" height="22" fill="#1e5a2b"/>
<rect x="1244" y="295" width="1" height="20" fill="#4caf50"/>
<rect x="1249" y="278" width="1" height="51" fill="#737375"/>
<rect x="1248" y="286" width="3" height="9" fill="#1e5a2b"/>
<rect x="1249" y="287" width="1" height="7" fill="#4caf50"/>
<rect x="1254" y="216" width="1" height="73" fill="#737375"/>
<rect x="1253" y="279" width="3" height="9" fill="#1e5a2b"/>
<rect x="1254" y="280" width="1" height="7" fill="#4caf50"/>
<rect x="1259" y="244" width="1" height="39" fill="#737375"/>
<rect x="1258" y="266" width="3" height="14" fill="#1e5a2b"/>
<rect x="1259" y="267" width="1" height="12" fill="#4caf50"/>
<rect x="1264" y="260" width="1" height="48" fill="#737375"/>
<rect x="1263" y="266" width="3" height="39" fill="#5e160f"/>
<rect x="1264" y="267" width="1" height="37" fill="#d9523f"/>
<rect x="1269" y="304" width="1" height="28" fill="#737375"/>
<rect x="1268" y="305" width="3" height="9" fill="#5e160f"/>
<rect x="1269" y="306" width="1" height="7" fill="#d9523f"/>
<rect x="1275" y="291" width="1" height="56" fill="#737375"/>
<rect x="1274" y="297" width="3" height="17" fill="#1e5a2b"/>
<rect x="1275" y="298" width="1" height="15" fill="#4caf50"/>
<rect x="1280" y="282" width="1" height="26" fill="#737375"/>
<rect x="1279" y="294" width="3" height="1" fill="#5e160f"/>
<rect x="1285" y="262" width="1" height="35" fill="#737375"/>
<rect x="1284" y="270" width="3" height="26" fill="#1e5a2b"/>
<rect x="1285" y="271" width="1" height="24" fill="#4caf50"/>
<rect x="1290" y="246" width="1" height="57" fill="#737375"/>
<rect x="1289" y="247" width="3" height="23" fill="#1e5a2b"/>
<rect x="1290" y="248" width="1" height="21" fill="#4caf50"/>
<rect x="1295" y="180" width="1" height="71" fill="#737375"/>
<rect x="1294" y="182" width="3" height="67" fill="#1e5a2b"/>
<rect x="1295" y="183" width="1" height="65" fill="#4caf50"/>
<rect x="1301" y="170" width="1" height="39" fill="#737375"/>
<rect x="1300" y="182" width="3" height="10" fill="#5e160f"/>
<rect x="1301" y="183" width="1" height="8" fill="#d9523f"/>
<rect x="1306" y="162" width="1" height="47" fill="#737375"/>
<rect x="1305" y="170" width="3" height="22" fill="#1e5a2b"/>
<rect x="1306" y="171" width="1" height="20" fill="#4caf50"/>
<rect x="1311" y="152" width="1" height="25" fill="#737375"/>
<rect x="1310" y="169" width="3" height="3" fill="#1e5a2b"/>
<rect x="1311" y="170" width="1" height="1" fill="#4caf50"/>
<rect x="1316" y="152" width="1" height="28" fill="#737375"/>
<rect x="1315" y="163" width="3" height="4" fill="#1e5a2b"/>
<rect x="1316" y="164" width="1" height="2" fill="#4caf50"/>
<rect x="1321" y="128" width="1" height="42" fill="#737375"/>
<rect x="1320" y="158" width="3" height="6" fill="#1e5a2b"/>
<rect x="1321" y="159" width="1" height="4" fill="#4caf50"/>
<rect x="1327" y="138" width="1" height="42" fill="#737375"/>
<rect x="1326" y="160" width="3" height="12" fill="#5e160f"/>
<rect x="1327" y="161" width="1" height="10" fill="#d9523f"/>
<rect x="1332" y="135" width="1" height="52" fill="#737375"/>
<rect x="1331" y="145" width="3" height="28" fill="#1e5a2b"/>
<rect x="1332" y="146" width="1" height="26" fill="#4caf50"/>
<rect x="1337" y="116" width="1" height="31" fill="#737375"/>
<rect x="1336" y="123" width="3" height="21" fill="#1e5a2b"/>
<rect x="1337" y="124" width="1" height="19" fill="#4caf50"/>
<rect x="1342" y="100" width="1" height="33" fill="#737375"/>
<rect x="1341" y="123" width="3" height="5" fill="#5e160f"/>
<rect x="1342" y="124" width="1" height="3" fill="#d9523f"/>
<rect x="1347" y="120" width="1" height="51" fill="#737375"/>
<rect x="1346" y="127" width="3" height="43" fill="#5e160f"/>
<rect x="1347" y="128" width="1" height="41" fill="#d9523f"/>
<rect x="1353" y="139" width="1" height="45" fill="#737375"/>
<rect x="1352" y="147" width="3" height="24" fill="#1e5a2b"/>
<rect x="1353" y="148" width="1" height="22" fill="#4caf50"/>
<rect x="1358" y="124" width="1" height="46" fill="#737375"/>
<rect x="1357" y="142" width="3" height="6" fill="#1e5a2b"/>
<rect x="1358" y="143" width="1" height="4" fill="#4caf50"/>
<rect x="1363" y="94" width="1" height="81" fill="#737375"/>
<rect x="1362" y="97" width="3" height="47" fill="#1e5a2b"/>
<rect x="1363" y="98" width="1" height="45" fill="#4caf50"/>
<rect x="1368" y="88" width="1" height="52" fill="#737375"/>
<rect x="1367" y="98" width="3" height="26" fill="#5e160f"/>
<rect x="1368" y="99" width="1" height="24" fill="#d9523f"/>
<rect x="1373" y="104" width="1" height="27" fill="#737375"/>
<rect x="1372" y="110" width="3" height="14" fill="#1e5a2b"/>
<rect x="1373" y="111" width="1" height="12" fill="#4caf50"/>
<rect x="1379" y="94" width="1" height="33" fill="#737375"/>
<rect x="1378" y="107" width="3" height="4" fill="#1e5a2b"/>
<rect x="1379" y="108" width="1" height="2" fill="#4caf50"/>
<rect x="1384" y="88" width="1" height="70" fill="#737375"/>
<rect x="1383" y="108" width="3" height="49" fill="#5e160f"/>
<rect x="1384" y="109" width="1" height="47" fill="#d9523f"/>
<rect x="1389" y="145" width="1" height="33" fill="#737375"/>
<rect x="1388" y="152" width="3" height="5" fill="#1e5a2b"/>
<rect x="1389" y="153" width="1" height="3" fill="#4caf50"/>
<rect x="1394" y="134" width="1" height="32" fill="#737375"/>
<rect x="1393" y="144" width="3" height="9" fill="#1e5a2b"/>
<rect x="1394" y="145" width="1" height="7" fill="#4caf50"/>
<rect x="1399" y="58" width="1" height="89" fill="#737375"/>
<rect x="1398" y="102" width="3" height="43" fill="#1e5a2b"/>
<rect x="1399" y="103" width="1" height="41" fill="#4caf50"/>
<rect x="1405" y="95" width="1" height="49" fill="#737375"/>
<rect x="1404" y="101" width="3" height="29" fill="#5e160f"/>
<rect x="1405" y="102" width="1" height="27" fill="#d9523f"/>
<rect x="1410" y="126" width="1" height="74" fill="#737375"/>
<rect x="1409" y="131" width="3" height="53" fill="#5e160f"/>
<rect x="1410" y="132" width="1" height="51" fill="#d9523f"/>
<rect x="1415" y="163" width="1" height="36" fill="#737375"/>
<rect x="1414" y="170" width="3" height="14" fill="#1e5a2b"/>
<rect x="1415" y="171" width="1" height="12" fill="#4caf50"/>
<rect x="1420" y="156" width="1" height="37" fill="#737375"/>
<rect x="1419" y="166" width="3" height="5" fill="#1e5a2b"/>
<rect x="1420" y="167" width="1" height="3" fill="#4caf50"/>
<rect x="1425" y="143" width="1" height="27" fill="#737375"/>
<rect x="1424" y="156" width="3" height="11" fill="#1e5a2b"/>
<rect x="1425" y="157" width="1" height="9" fill="#4caf50"/>
<rect x="1430" y="154" width="1" height="30" fill="#737375"/>
<rect x="1429" y="157" width="3" height="21" fill="#5e160f"/>
<rect x="1430" y="158" width="1" height="19" fill="#d9523f"/>
</g>
<line x1="4" y1="177.5" x2="1485" y2="177.5" stroke="#e0523f" stroke-width="1" stroke-dasharray="1 2" shape-rendering="crispEdges"/>
</g>
<path clip-path="url(#ca)" d="M4.0 679.4 L9.6 679.1 L16.0 680.2 L24.0 680.7 L32.0 679.8 L40.0 678.1 L48.0 677.0 L53.7 674.6 L61.0 676.2 L69.0 677.0 L80.0 675.4 L88.0 677.5 L94.6 679.8 L101.0 677.8 L106.5 677.5 L111.5 675.2 L117.5 677.3 L122.5 679.8 L127.5 682.9 L132.5 681.6 L137.5 679.4 L142.5 677.9 L148.5 678.8 L153.5 678.6 L158.5 673.9 L163.5 675.3 L168.5 677.6 L174.5 677.3 L179.5 671.7 L184.5 671.7 L189.5 672.4 L194.5 673.2 L200.5 673.4 L205.5 674.4 L210.5 669.0 L215.5 669.0 L220.5 669.4 L226.5 670.8 L231.5 669.1 L236.5 669.0 L241.5 669.0 L246.5 670.7 L252.5 670.6 L257.5 672.7 L262.5 669.2 L267.5 671.2 L272.5 671.4 L278.5 673.0 L283.5 674.3 L288.5 675.3 L293.5 676.6 L298.5 679.1 L303.5 679.8 L309.5 675.8 L314.5 673.4 L319.5 672.8 L324.5 676.4 L329.5 676.6 L335.5 674.4 L340.5 675.5 L345.5 672.8 L350.5 675.5 L355.5 675.0 L361.5 674.3 L366.5 676.7 L371.5 678.9 L376.5 679.1 L381.5 679.8 L387.5 680.7 L392.5 679.4 L397.5 681.0 L402.5 684.4 L407.5 686.5 L413.5 686.1 L418.5 684.4 L423.5 686.0 L428.5 687.6 L433.5 688.9 L439.5 690.7 L444.5 688.9 L449.5 688.3 L454.5 684.5 L459.5 687.0 L464.5 683.2 L470.5 683.2 L475.5 678.6 L480.5 679.3 L485.5 680.0 L490.5 681.5 L496.5 676.8 L501.5 676.1 L506.5 677.0 L511.5 677.7 L516.5 678.9 L522.5 678.1 L527.5 679.2 L532.5 677.5 L537.5 674.7 L542.5 676.5 L548.5 678.2 L553.5 680.7 L558.5 680.9 L563.5 681.4 L568.5 682.9 L574.5 683.3 L579.5 675.6 L584.5 675.9 L589.5 676.6 L594.5 678.8 L600.5 678.5 L605.5 681.2 L610.5 682.9 L615.5 672.7 L620.5 672.8 L625.5 674.0 L631.5 674.3 L636.5 676.0 L641.5 678.5 L646.5 678.2 L651.5 678.8 L657.5 679.0 L662.5 681.6 L667.5 680.4 L672.5 681.8 L677.5 680.7 L683.5 679.8 L688.5 677.8 L693.5 679.1 L698.5 681.1 L703.5 682.4 L709.5 681.7 L714.5 683.9 L719.5 683.0 L724.5 679.8 L729.5 673.6 L735.5 672.0 L740.5 673.7 L745.5 672.1 L750.5 671.4 L755.5 672.4 L761.5 674.8 L766.5 679.0 L771.5 681.9 L776.5 680.9 L781.5 679.2 L786.5 680.5 L792.5 685.7 L797.5 681.5 L802.5 683.8 L807.5 684.8 L812.5 679.8 L818.5 679.6 L823.5 680.6 L828.5 682.9 L833.5 682.4 L838.5 683.9 L844.5 686.3 L849.5 684.6 L854.5 683.8 L859.5 685.7 L864.5 688.5 L870.5 690.9 L875.5 689.9 L880.5 689.0 L885.5 690.5 L890.5 690.4 L896.5 692.0 L901.5 691.8 L906.5 690.8 L911.5 687.2 L916.5 682.2 L922.5 680.2 L927.5 681.3 L932.5 684.0 L937.5 685.4 L942.5 688.1 L947.5 690.5 L953.5 687.9 L958.5 688.3 L963.5 689.8 L968.5 690.3 L973.5 692.5 L979.5 691.6 L984.5 694.3 L989.5 692.6 L994.5 694.2 L999.5 696.3 L1005.5 698.8 L1010.5 699.1 L1015.5 699.2 L1020.5 699.6 L1025.5 700.3 L1031.5 700.7 L1036.5 700.4 L1041.5 699.2 L1046.5 697.6 L1051.5 697.9 L1057.5 697.5 L1062.5 699.9 L1067.5 698.4 L1072.5 700.8 L1077.5 703.5 L1083.5 703.5 L1088.5 701.0 L1093.5 695.3 L1098.5 693.7 L1103.5 694.6 L1108.5 696.6 L1114.5 699.3 L1119.5 699.4 L1124.5 701.8 L1129.5 699.4 L1134.5 701.3 L1140.5 699.6 L1145.5 701.0 L1150.5 700.6 L1155.5 701.8 L1160.5 702.2 L1166.5 694.1 L1171.5 694.6 L1176.5 690.8 L1181.5 691.9 L1186.5 692.7 L1192.5 693.4 L1197.5 695.1 L1202.5 693.3 L1207.5 692.2 L1212.5 688.9 L1218.5 691.2 L1223.5 691.6 L1228.5 690.7 L1233.5 690.3 L1238.5 690.6 L1244.5 690.2 L1249.5 690.7 L1254.5 688.9 L1259.5 690.6 L1264.5 691.2 L1269.5 693.7 L1275.5 693.3 L1280.5 695.9 L1285.5 697.5 L1290.5 696.7 L1295.5 694.7 L1301.5 695.9 L1306.5 696.3 L1311.5 698.8 L1316.5 700.8 L1321.5 701.3 L1327.5 701.8 L1332.5 701.2 L1337.5 702.8 L1342.5 704.0 L1347.5 703.5 L1353.5 703.5 L1358.5 703.4 L1363.5 700.0 L1368.5 699.6 L1373.5 701.6 L1379.5 703.0 L1384.5 700.6 L1389.5 701.9 L1394.5 703.3 L1399.5 699.2 L1405.5 699.1 L1410.5 696.7 L1415.5 698.1 L1420.5 699.3 L1425.5 701.4 L1430.5 703.0" fill="none" stroke="#b22833" stroke-width="1.2" stroke-linejoin="round"/>
<g clip-path="url(#cc)">
<rect x="4" y="737.3" width="1481" height="28.4" fill="#2196f3" fill-opacity="0.1"/>
<line x1="4" y1="737.5" x2="1485" y2="737.5" stroke="#787b86" stroke-width="1" stroke-dasharray="4 4" shape-rendering="crispEdges"/>
<line x1="4" y1="751.5" x2="1485" y2="751.5" stroke="#787b86" stroke-width="1" stroke-dasharray="4 4" shape-rendering="crispEdges"/>
<line x1="4" y1="765.5" x2="1485" y2="765.5" stroke="#787b86" stroke-width="1" stroke-dasharray="4 4" shape-rendering="crispEdges"/>
<path d="M4.0 748.4 L7.2 749.2 L12.8 756.1 L17.6 754.0 L23.3 748.4 L28.1 732.4 L32.9 725.1 L38.5 731.5 L44.1 724.3 L49.7 721.1 L56.1 719.5 L60.1 720.3 L64.1 725.1 L70.6 732.4 L76.2 735.2 L80.2 736.4 L85.0 740.7 L90.6 742.0 L96.2 742.0 L101.0 746.8 L105.8 751.6 L111.5 748.9 L117.5 748.3 L122.5 747.0 L127.5 748.3 L132.5 746.0 L137.5 734.9 L142.5 732.2 L148.5 720.9 L153.5 718.5 L158.5 713.9 L163.5 721.0 L168.5 728.8 L174.5 733.6 L179.5 742.9 L184.5 747.9 L189.5 750.2 L194.5 752.2 L200.5 749.9 L205.5 746.6 L210.5 753.2 L215.5 756.5 L220.5 756.1 L226.5 760.8 L231.5 769.1 L236.5 773.3 L241.5 766.8 L246.5 764.1 L252.5 765.0 L257.5 764.0 L262.5 764.7 L267.5 766.0 L272.5 767.8 L278.5 762.5 L283.5 759.2 L288.5 756.1 L293.5 757.9 L298.5 754.9 L303.5 753.4 L309.5 763.7 L314.5 778.1 L319.5 785.0 L324.5 779.7 L329.5 770.0 L335.5 752.7 L340.5 754.9 L345.5 766.4 L350.5 766.0 L355.5 771.4 L361.5 775.9 L366.5 778.4 L371.5 773.9 L376.5 767.7 L381.5 768.0 L387.5 767.2 L392.5 769.9 L397.5 771.1 L402.5 770.1 L407.5 767.6 L413.5 769.0 L418.5 774.1 L423.5 774.4 L428.5 774.5 L433.5 774.3 L439.5 774.1 L444.5 768.8 L449.5 764.4 L454.5 768.8 L459.5 770.0 L464.5 765.5 L470.5 761.1 L475.5 757.6 L480.5 756.0 L485.5 750.9 L490.5 745.1 L496.5 752.6 L501.5 759.9 L506.5 755.4 L511.5 756.3 L516.5 758.0 L522.5 761.5 L527.5 760.8 L532.5 743.0 L537.5 746.8 L542.5 763.4 L548.5 765.5 L553.5 760.8 L558.5 758.3 L563.5 756.9 L568.5 761.7 L574.5 748.7 L579.5 723.7 L584.5 720.8 L589.5 733.7 L594.5 737.6 L600.5 742.9 L605.5 748.3 L610.5 742.6 L615.5 723.4 L620.5 726.8 L625.5 732.7 L631.5 733.6 L636.5 731.5 L641.5 731.2 L646.5 736.1 L651.5 735.3 L657.5 733.6 L662.5 732.6 L667.5 730.8 L672.5 730.6 L677.5 736.3 L683.5 735.7 L688.5 739.0 L693.5 743.1 L698.5 746.4 L703.5 746.5 L709.5 750.9 L714.5 751.4 L719.5 751.8 L724.5 750.0 L729.5 730.0 L735.5 734.1 L740.5 743.5 L745.5 736.4 L750.5 745.0 L755.5 745.9 L761.5 739.3 L766.5 742.4 L771.5 739.6 L776.5 731.2 L781.5 734.9 L786.5 739.5 L792.5 742.2 L797.5 752.0 L802.5 755.2 L807.5 748.7 L812.5 747.6 L818.5 742.0 L823.5 744.6 L828.5 744.5 L833.5 737.9 L838.5 737.2 L844.5 743.6 L849.5 766.7 L854.5 768.1 L859.5 758.9 L864.5 757.7 L870.5 751.5 L875.5 756.6 L880.5 745.1 L885.5 749.6 L890.5 747.9 L896.5 753.9 L901.5 758.7 L906.5 754.9 L911.5 751.1 L916.5 767.0 L922.5 798.9 L927.5 784.4 L932.5 768.3 L937.5 768.5 L942.5 763.3 L947.5 760.2 L953.5 762.0 L958.5 769.4 L963.5 765.5 L968.5 762.1 L973.5 759.3 L979.5 754.8 L984.5 753.4 L989.5 745.1 L994.5 740.7 L999.5 738.5 L1005.5 738.3 L1010.5 743.5 L1015.5 747.0 L1020.5 746.1 L1025.5 733.7 L1031.5 729.6 L1036.5 727.2 L1041.5 720.5 L1046.5 715.1 L1051.5 726.0 L1057.5 734.6 L1062.5 735.9 L1067.5 741.3 L1072.5 746.3 L1077.5 748.6 L1083.5 753.3 L1088.5 746.2 L1093.5 755.9 L1098.5 770.7 L1103.5 767.7 L1108.5 764.7 L1114.5 766.1 L1119.5 766.7 L1124.5 765.5 L1129.5 770.5 L1134.5 769.2 L1140.5 760.9 L1145.5 756.5 L1150.5 759.8 L1155.5 755.8 L1160.5 749.4 L1166.5 764.5 L1171.5 771.6 L1176.5 783.2 L1181.5 782.3 L1186.5 779.3 L1192.5 773.0 L1197.5 769.8 L1202.5 772.6 L1207.5 774.5 L1212.5 765.2 L1218.5 760.1 L1223.5 754.5 L1228.5 754.4 L1233.5 748.9 L1238.5 751.3 L1244.5 751.0 L1249.5 749.2 L1254.5 740.7 L1259.5 740.0 L1264.5 744.2 L1269.5 750.0 L1275.5 747.8 L1280.5 743.4 L1285.5 739.1 L1290.5 736.8 L1295.5 722.9 L1301.5 723.4 L1306.5 725.1 L1311.5 725.8 L1316.5 729.5 L1321.5 731.0 L1327.5 735.9 L1332.5 736.9 L1337.5 734.9 L1342.5 735.6 L1347.5 741.6 L1353.5 742.9 L1358.5 741.8 L1363.5 739.0 L1368.5 738.8 L1373.5 738.5 L1379.5 737.3 L1384.5 743.7 L1389.5 752.8 L1394.5 750.9 L1399.5 732.1 L1405.5 742.8 L1410.5 766.2 L1415.5 769.2 L1420.5 766.1 L1425.5 758.6 L1430.5 765.3" fill="none" stroke="#2962ff" stroke-width="1.2" stroke-linejoin="round"/>
</g>
<g shape-rendering="crispEdges">
<rect x="1485" y="2" width="1" height="829" fill="#3a3b40"/>
<rect x="4" y="666" width="1541" height="1" fill="#e0e3eb"/>
<rect x="4" y="708" width="1541" height="1" fill="#e0e3eb"/>
<rect x="4" y="803" width="1541" height="1" fill="#3a3b40"/>
<rect x="4" y="831" width="1541" height="1" fill="#e0e3eb"/>
</g>
<g font-size="12.3" fill="#4a4d57" letter-spacing="-0.25">
<text x="1493" y="70.4">1.2850</text>
<text x="1493" y="105.2">1.2800</text>
<text x="1493" y="140.0">1.2750</text>
<text x="1493" y="174.9">1.2700</text>
<text x="1493" y="209.7">1.2650</text>
<text x="1493" y="244.5">1.2600</text>
<text x="1493" y="279.3">1.2550</text>
<text x="1493" y="314.2">1.2500</text>
<text x="1493" y="349.0">1.2450</text>
<text x="1493" y="383.8">1.2400</text>
<text x="1493" y="418.6">1.2350</text>
<text x="1493" y="453.5">1.2300</text>
<text x="1493" y="488.3">1.2250</text>
<text x="1493" y="523.1">1.2200</text>
<text x="1493" y="557.9">1.2150</text>
<text x="1493" y="592.8">1.2100</text>
<text x="1493" y="627.6">1.2050</text>
<text x="1493" y="662.4">1.2000</text>
<text x="1493" y="677.9">0.0100</text>
<text x="1493" y="720.9">250.00</text>
<text x="1493" y="755.9">0.00</text>
<text x="1493" y="790.9">−250.00</text>
</g>
<g>
<rect x="1486" y="133" width="48" height="17" rx="2" fill="#000"/>
<rect x="1485" y="133" width="4" height="17" fill="#000"/>
<text x="1493" y="145.9" font-size="12.3" font-weight="bold" fill="#fff" letter-spacing="-0.35">1.2742</text>
<rect x="1486" y="185" width="48" height="17" rx="2" fill="#000"/>
<rect x="1485" y="185" width="4" height="17" fill="#000"/>
<text x="1493" y="197.9" font-size="12.3" font-weight="bold" fill="#fff" letter-spacing="-0.35">1.2667</text>
<rect x="1486" y="269" width="48" height="17" rx="2" fill="#000"/>
<rect x="1485" y="269" width="4" height="17" fill="#000"/>
<text x="1493" y="281.9" font-size="12.3" font-weight="bold" fill="#fff" letter-spacing="-0.35">1.2547</text>
<rect x="1486" y="385" width="48" height="17" rx="2" fill="#000"/>
<rect x="1485" y="385" width="4" height="17" fill="#000"/>
<text x="1493" y="397.9" font-size="12.3" font-weight="bold" fill="#fff" letter-spacing="-0.35">1.2381</text>
<rect x="1486" y="441" width="48" height="17" rx="2" fill="#000"/>
<rect x="1485" y="441" width="4" height="17" fill="#000"/>
<text x="1493" y="453.9" font-size="12.3" font-weight="bold" fill="#fff" letter-spacing="-0.35">1.2300</text>
<rect x="1486" y="623" width="48" height="17" rx="2" fill="#000"/>
<rect x="1485" y="623" width="4" height="17" fill="#000"/>
<text x="1493" y="635.9" font-size="12.3" font-weight="bold" fill="#fff" letter-spacing="-0.35">1.2039</text>
</g>
<rect x="1489.5" y="6.5" width="51" height="25" rx="4" fill="#fff" stroke="#e0e3eb"/>
<text x="1493.3" y="22.8" font-size="12" fill="#131722" textLength="20.5" lengthAdjust="spacingAndGlyphs">USD</text>
<path d="M1531 18.2 l2.6 2.6 l2.6 -2.6" fill="none" stroke="#131722" stroke-width="1.25"/>
<g font-size="12" fill="#4a4d57" text-anchor="middle" letter-spacing="-0.15">
<text x="117.5" y="821">Jul</text>
<text x="226.5" y="821">Aug</text>
<text x="345.5" y="821">Sep</text>
<text x="454.5" y="821">Oct</text>
<text x="568.5" y="821">Nov</text>
<text x="683.5" y="821">Dec</text>
<text x="792.5" y="821" font-weight="bold">2024</text>
<text x="911.5" y="821">Feb</text>
<text x="1020.5" y="821">Mar</text>
<text x="1129.5" y="821">Apr</text>
<text x="1244.5" y="821">May</text>
<text x="1363.5" y="821">Jun</text>
<text x="1467.5" y="821">Jul</text>
</g>
<g transform="translate(1515.3 817.8)" fill="none" stroke="#131722" stroke-width="1.1"><path d="M-3.5 -6 L3.5 -6 L7 0 L3.5 6 L-3.5 6 L-7 0 Z"/><circle r="1.7"/></g>
<g fill="#fff" fill-opacity="0.5">
<rect x="8" y="6" width="285" height="24" rx="2"/>
<rect x="321" y="6" width="363" height="24" rx="2"/>
<rect x="8" y="32" width="139" height="28" rx="2"/>
<rect x="8" y="62" width="541" height="23" rx="2"/>
<rect x="8" y="677" width="123" height="21" rx="2"/>
<rect x="8" y="717" width="157" height="20" rx="2"/>
</g>
<g>
<clipPath id="us"><circle cx="25.3" cy="14.7" r="6"/></clipPath>
<g clip-path="url(#us)"><rect x="19" y="8" width="14" height="14" fill="#fff"/>
<rect x="19" y="8.90" width="14" height="2.37" fill="#f44336"/>
<rect x="19" y="13.64" width="14" height="2.37" fill="#f44336"/>
<rect x="19" y="18.38" width="14" height="2.37" fill="#f44336"/>
<rect x="19" y="8" width="6.9" height="7.9" fill="#1e88e5"/>
<g fill="#e3eefc"><circle cx="22.4" cy="10.5" r="0.55"/><circle cx="24.5" cy="10.5" r="0.55"/><circle cx="20.3" cy="12.5" r="0.55"/><circle cx="22.4" cy="12.5" r="0.55"/><circle cx="24.5" cy="12.5" r="0.55"/><circle cx="23.5" cy="14.4" r="0.55"/></g></g>
<circle cx="19.1" cy="20.8" r="7" fill="#ffeaec"/>
<clipPath id="uk"><circle cx="19.1" cy="20.8" r="6"/></clipPath>
<g clip-path="url(#uk)"><rect x="12" y="14" width="15" height="15" fill="#283593"/>
<path d="M12.1 13.8 L26.1 27.8 M26.1 13.8 L12.1 27.8" stroke="#fff" stroke-width="2.2"/>
<path d="M12.1 13.8 L26.1 27.8 M26.1 13.8 L12.1 27.8" stroke="#f0424f" stroke-width="0.8"/>
<path d="M19.1 14 V28 M12 20.8 H27" stroke="#fff" stroke-width="3.6"/>
<path d="M19.1 14 V28 M12 20.8 H27" stroke="#ff7b72" stroke-width="2"/></g>
</g>
<text x="35.5" y="24" font-size="14.8" fill="#50535c" textLength="254.5" lengthAdjust="spacing">British Pound / U.S. Dollar · 1D · ICE</text>
<path d="M301 12 h12.2 l-3.4 6 l3.4 6 h-12.2 z" fill="#fd5154"/>
<circle cx="341" cy="18" r="9" fill="#c9d3d3" fill-opacity="0.6"/><circle cx="341" cy="18" r="4.1" fill="#089981"/>
<text y="23" font-size="12.3" letter-spacing="-0.05"><tspan x="366.4" fill="#4a4d57">O</tspan><tspan fill="#6b2a25">1.2719</tspan><tspan x="421.2" fill="#4a4d57">H</tspan><tspan fill="#6b2a25">1.2724</tspan><tspan x="476" fill="#4a4d57">L</tspan><tspan fill="#6b2a25">1.2680</tspan><tspan x="528.3" fill="#4a4d57">C</tspan><tspan fill="#6b2a25">1.2690</tspan><tspan fill="#6b2a25" x="582.6">−0.0030</tspan><tspan fill="#6b2a25" x="633">(−0.24%)</tspan></text>
<rect x="12.5" y="34.5" width="54" height="23" rx="4" fill="#fff" stroke="#f23645"/>
<text x="39.5" y="50.3" font-size="12.3" fill="#f23645" text-anchor="middle">1.2691</text>
<text x="77.5" y="50" font-size="11" fill="#33363f" text-anchor="middle">1</text>
<rect x="89.5" y="34.5" width="54" height="23" rx="4" fill="#fff" stroke="#2962ff"/>
<text x="116.5" y="50.3" font-size="12.3" fill="#2962ff" text-anchor="middle">1.2692</text>
<text y="78.5" font-size="12.3" fill="#4a4d57"><tspan x="13" textLength="383" lengthAdjust="spacing">MA Ribbon SMA close 20 SMA close 50 SMA close 100 SMA close 200</tspan><tspan fill="#f23645" x="404.6" letter-spacing="0.05">1.2742</tspan><tspan fill="#2962ff" x="450.3" letter-spacing="0.05">1.2619</tspan><tspan fill="#131722" x="494.2">ø</tspan><tspan fill="#131722" x="508.6" letter-spacing="0.05">1.2554</tspan></text>
<rect x="13.5" y="88.5" width="28" height="19" rx="3" fill="#fff" fill-opacity="0.9" stroke="#e0e3eb"/>
<path d="M23.5 100 l4 -4 l4 4" fill="none" stroke="#131722" stroke-width="1.3"/>
<text y="687.8" font-size="12.3" fill="#4a4d57"><tspan x="13.1" textLength="67" lengthAdjust="spacing">ATR 14 RMA</tspan><tspan fill="#b22833" x="89" letter-spacing="0.05">0.0066</tspan></text>
<text y="729.6" font-size="12.3" fill="#4a4d57"><tspan x="13.1" textLength="101.5" lengthAdjust="spacing">CCI 20 hlc3 SMA 5</tspan><tspan fill="#2962ff" x="123.5" letter-spacing="0.05">−98.01</tspan></text>
<g transform="translate(16 770.5) scale(0.833)" fill="#131722"><path d="M14 22H7V11H0V4h14v18zM28 22h-8l7.5-18h8L28 22z"/><circle cx="20" cy="8" r="4"/></g>
<g font-size="13.4" fill="#33363f">
<text x="18.7" y="855.3" textLength="15" lengthAdjust="spacingAndGlyphs">1D</text>
<text x="46.4" y="855.3" textLength="15" lengthAdjust="spacingAndGlyphs">5D</text>
<text x="74.6" y="855.3" textLength="16.6" lengthAdjust="spacingAndGlyphs">1M</text>
<text x="103.7" y="855.3" textLength="16.6" lengthAdjust="spacingAndGlyphs">3M</text>
<text x="132.5" y="855.3" textLength="17.3" lengthAdjust="spacingAndGlyphs">6M</text>
<text x="161.9" y="855.3" textLength="23.9" lengthAdjust="spacingAndGlyphs">YTD</text>
<text x="198.6" y="855.3" textLength="14.5" lengthAdjust="spacingAndGlyphs">1Y</text>
<text x="226.2" y="855.3" textLength="14.5" lengthAdjust="spacingAndGlyphs">5Y</text>
<text x="253.1" y="855.3" textLength="15.8" lengthAdjust="spacingAndGlyphs">All</text>
</g>
<rect x="280" y="841" width="1" height="21" fill="#e0e3eb" shape-rendering="crispEdges"/>
<g fill="none" stroke="#131722" stroke-width="1.2"><path d="M300 859 h9 a3 3 0 0 0 3 -3 v-9 a3 3 0 0 0 -3 -3 h-11 a3 3 0 0 0 -3 3 v4"/><path d="M295 849 h17 M299.5 841 v4 M307.5 841 v4"/><path d="M294 856 h8 M299 853 l3 3 l-3 3"/></g>
<text x="1440.7" y="855.6" font-size="14" fill="#33363f" textLength="92.3" lengthAdjust="spacingAndGlyphs">11:30:24 (UTC)</text>
<rect x="1547" y="829.5" width="12" height="23.5" rx="3" fill="#fff"/>
<g font-weight="bold">
<text transform="translate(1297 829) skewX(-16)" font-size="62" fill="#fff" font-family="Noto Sans CJK SC, WenQuanYi Zen Hei, sans-serif" filter="url(#ws)">海马财经</text>
<text transform="translate(1297 829) skewX(-16)" font-size="62" fill="#fff" fill-opacity="0.7" font-family="Noto Sans CJK SC, WenQuanYi Zen Hei, sans-serif">海马财经</text>
<text transform="scale(1.18 1)" y="867.3" x="1113.1 1135.6 1158.9 1180.5 1196.6 1224.2 1245.8 1262.7 1283.9" font-size="31" font-style="italic" fill="#6fb8f9" stroke="#6fb8f9" stroke-width="1.3" stroke-linejoin="round" opacity="0.8" filter="url(#ws2)">zzrt01.cn</text>
</g>
</svg>
</body></html>
